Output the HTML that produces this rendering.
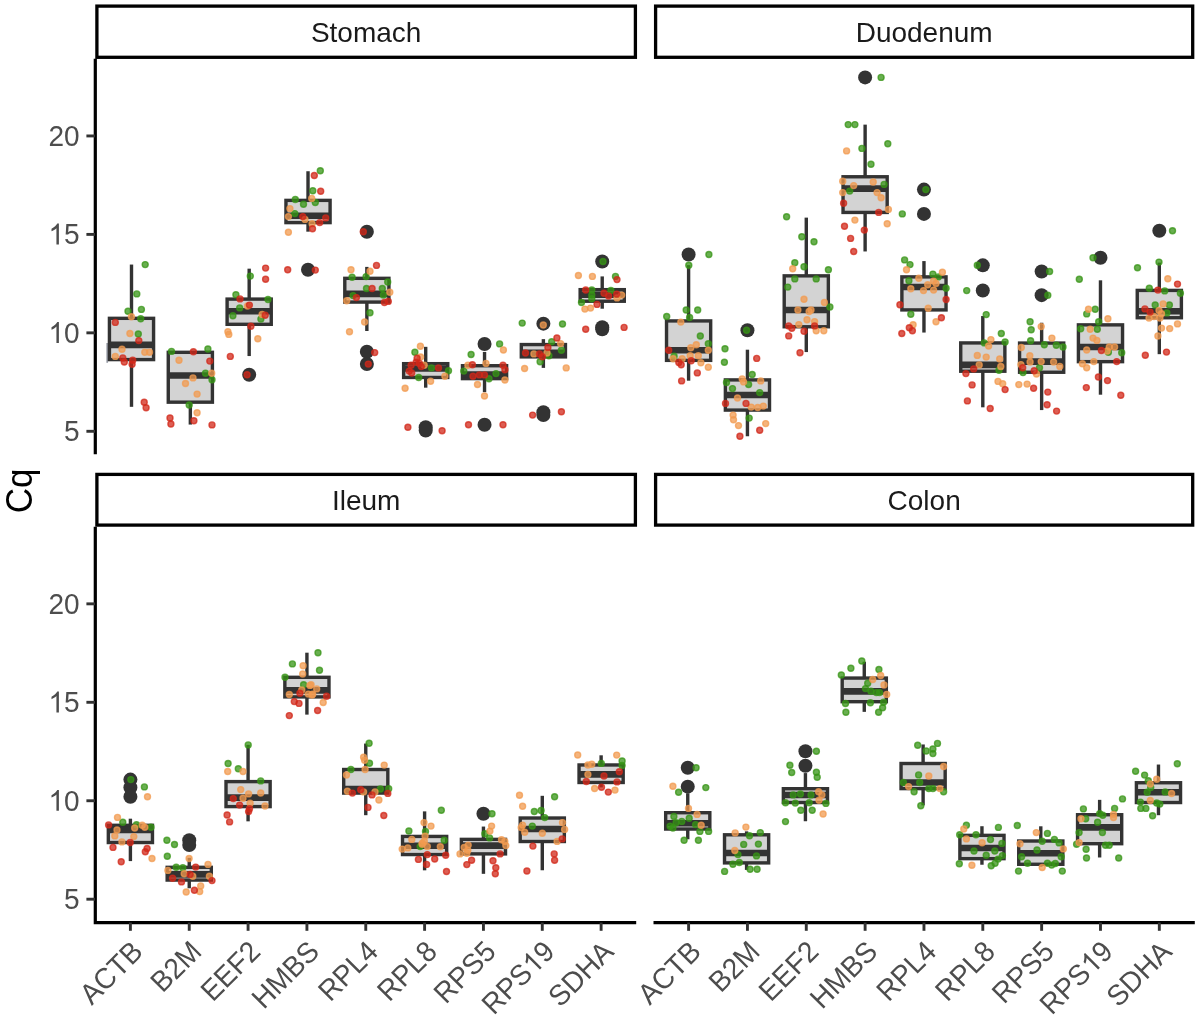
<!DOCTYPE html>
<html><head><meta charset="utf-8"><style>
html,body{margin:0;padding:0;background:#fff;width:1200px;height:1018px;overflow:hidden}
svg{display:block;font-family:"Liberation Sans",sans-serif;filter:blur(0.6px)}
</style></head><body>
<svg width="1200" height="1018" viewBox="0 0 1200 1018">
<rect x="96.9" y="6.1" width="538.50" height="51.20" fill="#fff" stroke="#000" stroke-width="3.3"/><text x="366.15" y="41.78" text-anchor="middle" font-size="28" fill="#1a1a1a">Stomach</text>
<rect x="655.6" y="6.1" width="537.10" height="51.20" fill="#fff" stroke="#000" stroke-width="3.3"/><text x="924.15" y="41.78" text-anchor="middle" font-size="28" fill="#1a1a1a">Duodenum</text>
<rect x="96.9" y="474.4" width="538.50" height="50.70" fill="#fff" stroke="#000" stroke-width="3.3"/><text x="366.15" y="509.83" text-anchor="middle" font-size="28" fill="#1a1a1a">Ileum</text>
<rect x="655.6" y="474.4" width="537.10" height="50.70" fill="#fff" stroke="#000" stroke-width="3.3"/><text x="924.15" y="509.83" text-anchor="middle" font-size="28" fill="#1a1a1a">Colon</text>
<line x1="95.3" y1="58.8" x2="95.3" y2="454.3" stroke="#000" stroke-width="3.2"/>
<path d="M95.3 526.8 V922.6 H636.2" fill="none" stroke="#000" stroke-width="3.2"/>
<line x1="653.5" y1="922.6" x2="1194.8" y2="922.6" stroke="#000" stroke-width="3.2"/>
<line x1="86.4" y1="431.30" x2="95" y2="431.30" stroke="#333" stroke-width="2.9"/>
<g transform="translate(0,441.38) scale(1,1.04) translate(0,-441.38)"><text x="64.03" y="441.38" font-size="28" fill="#4d4d4d">5</text></g>
<line x1="86.4" y1="332.85" x2="95" y2="332.85" stroke="#333" stroke-width="2.9"/>
<g transform="translate(0,342.93) scale(1,1.04) translate(0,-342.93)"><path transform="translate(48.46,342.93) scale(28)" d="M0.3726 0H0.2847V-0.5601Q0.2529 -0.5298 0.2014 -0.4995Q0.1499 -0.4692 0.1089 -0.4541V-0.5391Q0.1826 -0.5737 0.2378 -0.6230Q0.2930 -0.6724 0.3159 -0.7188H0.3726Z" fill="#4d4d4d"/><text x="64.03" y="342.93" font-size="28" fill="#4d4d4d">0</text></g>
<line x1="86.4" y1="234.40" x2="95" y2="234.40" stroke="#333" stroke-width="2.9"/>
<g transform="translate(0,244.48) scale(1,1.04) translate(0,-244.48)"><path transform="translate(48.46,244.48) scale(28)" d="M0.3726 0H0.2847V-0.5601Q0.2529 -0.5298 0.2014 -0.4995Q0.1499 -0.4692 0.1089 -0.4541V-0.5391Q0.1826 -0.5737 0.2378 -0.6230Q0.2930 -0.6724 0.3159 -0.7188H0.3726Z" fill="#4d4d4d"/><text x="64.03" y="244.48" font-size="28" fill="#4d4d4d">5</text></g>
<line x1="86.4" y1="135.95" x2="95" y2="135.95" stroke="#333" stroke-width="2.9"/>
<g transform="translate(0,146.03) scale(1,1.04) translate(0,-146.03)"><text x="48.46" y="146.03" font-size="28" fill="#4d4d4d">20</text></g>
<line x1="86.4" y1="899.20" x2="95" y2="899.20" stroke="#333" stroke-width="2.9"/>
<g transform="translate(0,909.28) scale(1,1.04) translate(0,-909.28)"><text x="64.03" y="909.28" font-size="28" fill="#4d4d4d">5</text></g>
<line x1="86.4" y1="800.75" x2="95" y2="800.75" stroke="#333" stroke-width="2.9"/>
<g transform="translate(0,810.83) scale(1,1.04) translate(0,-810.83)"><path transform="translate(48.46,810.83) scale(28)" d="M0.3726 0H0.2847V-0.5601Q0.2529 -0.5298 0.2014 -0.4995Q0.1499 -0.4692 0.1089 -0.4541V-0.5391Q0.1826 -0.5737 0.2378 -0.6230Q0.2930 -0.6724 0.3159 -0.7188H0.3726Z" fill="#4d4d4d"/><text x="64.03" y="810.83" font-size="28" fill="#4d4d4d">0</text></g>
<line x1="86.4" y1="702.30" x2="95" y2="702.30" stroke="#333" stroke-width="2.9"/>
<g transform="translate(0,712.38) scale(1,1.04) translate(0,-712.38)"><path transform="translate(48.46,712.38) scale(28)" d="M0.3726 0H0.2847V-0.5601Q0.2529 -0.5298 0.2014 -0.4995Q0.1499 -0.4692 0.1089 -0.4541V-0.5391Q0.1826 -0.5737 0.2378 -0.6230Q0.2930 -0.6724 0.3159 -0.7188H0.3726Z" fill="#4d4d4d"/><text x="64.03" y="712.38" font-size="28" fill="#4d4d4d">5</text></g>
<line x1="86.4" y1="603.85" x2="95" y2="603.85" stroke="#333" stroke-width="2.9"/>
<g transform="translate(0,613.93) scale(1,1.04) translate(0,-613.93)"><text x="48.46" y="613.93" font-size="28" fill="#4d4d4d">20</text></g>
<line x1="130.40" y1="922.6" x2="130.40" y2="930.8" stroke="#333" stroke-width="2.9"/>
<g transform="translate(130.20,938.90) rotate(-45)"><g transform="translate(0,20.16) scale(1,1.04) translate(0,-20.16)"><text x="-74.68" y="20.16" font-size="28" fill="#4d4d4d">ACTB</text></g></g>
<line x1="189.24" y1="922.6" x2="189.24" y2="930.8" stroke="#333" stroke-width="2.9"/>
<g transform="translate(189.04,938.90) rotate(-45)"><g transform="translate(0,20.16) scale(1,1.04) translate(0,-20.16)"><text x="-57.57" y="20.16" font-size="28" fill="#4d4d4d">B2M</text></g></g>
<line x1="248.08" y1="922.6" x2="248.08" y2="930.8" stroke="#333" stroke-width="2.9"/>
<g transform="translate(247.88,938.90) rotate(-45)"><g transform="translate(0,20.16) scale(1,1.04) translate(0,-20.16)"><text x="-70.03" y="20.16" font-size="28" fill="#4d4d4d">EEF2</text></g></g>
<line x1="306.92" y1="922.6" x2="306.92" y2="930.8" stroke="#333" stroke-width="2.9"/>
<g transform="translate(306.72,938.90) rotate(-45)"><g transform="translate(0,20.16) scale(1,1.04) translate(0,-20.16)"><text x="-80.89" y="20.16" font-size="28" fill="#4d4d4d">HMBS</text></g></g>
<line x1="365.76" y1="922.6" x2="365.76" y2="930.8" stroke="#333" stroke-width="2.9"/>
<g transform="translate(365.56,938.90) rotate(-45)"><g transform="translate(0,20.16) scale(1,1.04) translate(0,-20.16)"><text x="-70.03" y="20.16" font-size="28" fill="#4d4d4d">RPL4</text></g></g>
<line x1="424.60" y1="922.6" x2="424.60" y2="930.8" stroke="#333" stroke-width="2.9"/>
<g transform="translate(424.40,938.90) rotate(-45)"><g transform="translate(0,20.16) scale(1,1.04) translate(0,-20.16)"><text x="-70.03" y="20.16" font-size="28" fill="#4d4d4d">RPL8</text></g></g>
<line x1="483.44" y1="922.6" x2="483.44" y2="930.8" stroke="#333" stroke-width="2.9"/>
<g transform="translate(483.24,938.90) rotate(-45)"><g transform="translate(0,20.16) scale(1,1.04) translate(0,-20.16)"><text x="-73.14" y="20.16" font-size="28" fill="#4d4d4d">RPS5</text></g></g>
<line x1="542.28" y1="922.6" x2="542.28" y2="930.8" stroke="#333" stroke-width="2.9"/>
<g transform="translate(542.08,938.90) rotate(-45)"><g transform="translate(0,20.16) scale(1,1.04) translate(0,-20.16)"><text x="-88.70" y="20.16" font-size="28" fill="#4d4d4d">RPS</text><path transform="translate(-31.14,20.16) scale(28)" d="M0.3726 0H0.2847V-0.5601Q0.2529 -0.5298 0.2014 -0.4995Q0.1499 -0.4692 0.1089 -0.4541V-0.5391Q0.1826 -0.5737 0.2378 -0.6230Q0.2930 -0.6724 0.3159 -0.7188H0.3726Z" fill="#4d4d4d"/><text x="-15.57" y="20.16" font-size="28" fill="#4d4d4d">9</text></g></g>
<line x1="601.12" y1="922.6" x2="601.12" y2="930.8" stroke="#333" stroke-width="2.9"/>
<g transform="translate(600.92,938.90) rotate(-45)"><g transform="translate(0,20.16) scale(1,1.04) translate(0,-20.16)"><text x="-77.78" y="20.16" font-size="28" fill="#4d4d4d">SDHA</text></g></g>
<line x1="688.60" y1="922.6" x2="688.60" y2="930.8" stroke="#333" stroke-width="2.9"/>
<g transform="translate(688.40,938.90) rotate(-45)"><g transform="translate(0,20.16) scale(1,1.04) translate(0,-20.16)"><text x="-74.68" y="20.16" font-size="28" fill="#4d4d4d">ACTB</text></g></g>
<line x1="747.44" y1="922.6" x2="747.44" y2="930.8" stroke="#333" stroke-width="2.9"/>
<g transform="translate(747.24,938.90) rotate(-45)"><g transform="translate(0,20.16) scale(1,1.04) translate(0,-20.16)"><text x="-57.57" y="20.16" font-size="28" fill="#4d4d4d">B2M</text></g></g>
<line x1="806.28" y1="922.6" x2="806.28" y2="930.8" stroke="#333" stroke-width="2.9"/>
<g transform="translate(806.08,938.90) rotate(-45)"><g transform="translate(0,20.16) scale(1,1.04) translate(0,-20.16)"><text x="-70.03" y="20.16" font-size="28" fill="#4d4d4d">EEF2</text></g></g>
<line x1="865.12" y1="922.6" x2="865.12" y2="930.8" stroke="#333" stroke-width="2.9"/>
<g transform="translate(864.92,938.90) rotate(-45)"><g transform="translate(0,20.16) scale(1,1.04) translate(0,-20.16)"><text x="-80.89" y="20.16" font-size="28" fill="#4d4d4d">HMBS</text></g></g>
<line x1="923.96" y1="922.6" x2="923.96" y2="930.8" stroke="#333" stroke-width="2.9"/>
<g transform="translate(923.76,938.90) rotate(-45)"><g transform="translate(0,20.16) scale(1,1.04) translate(0,-20.16)"><text x="-70.03" y="20.16" font-size="28" fill="#4d4d4d">RPL4</text></g></g>
<line x1="982.80" y1="922.6" x2="982.80" y2="930.8" stroke="#333" stroke-width="2.9"/>
<g transform="translate(982.60,938.90) rotate(-45)"><g transform="translate(0,20.16) scale(1,1.04) translate(0,-20.16)"><text x="-70.03" y="20.16" font-size="28" fill="#4d4d4d">RPL8</text></g></g>
<line x1="1041.64" y1="922.6" x2="1041.64" y2="930.8" stroke="#333" stroke-width="2.9"/>
<g transform="translate(1041.44,938.90) rotate(-45)"><g transform="translate(0,20.16) scale(1,1.04) translate(0,-20.16)"><text x="-73.14" y="20.16" font-size="28" fill="#4d4d4d">RPS5</text></g></g>
<line x1="1100.48" y1="922.6" x2="1100.48" y2="930.8" stroke="#333" stroke-width="2.9"/>
<g transform="translate(1100.28,938.90) rotate(-45)"><g transform="translate(0,20.16) scale(1,1.04) translate(0,-20.16)"><text x="-88.70" y="20.16" font-size="28" fill="#4d4d4d">RPS</text><path transform="translate(-31.14,20.16) scale(28)" d="M0.3726 0H0.2847V-0.5601Q0.2529 -0.5298 0.2014 -0.4995Q0.1499 -0.4692 0.1089 -0.4541V-0.5391Q0.1826 -0.5737 0.2378 -0.6230Q0.2930 -0.6724 0.3159 -0.7188H0.3726Z" fill="#4d4d4d"/><text x="-15.57" y="20.16" font-size="28" fill="#4d4d4d">9</text></g></g>
<line x1="1159.32" y1="922.6" x2="1159.32" y2="930.8" stroke="#333" stroke-width="2.9"/>
<g transform="translate(1159.12,938.90) rotate(-45)"><g transform="translate(0,20.16) scale(1,1.04) translate(0,-20.16)"><text x="-77.78" y="20.16" font-size="28" fill="#4d4d4d">SDHA</text></g></g>
<line x1="107.2" y1="343" x2="107.2" y2="362.8" stroke="#9a9ea8" stroke-width="1.7"/>
<g stroke="#333" stroke-width="3.4" stroke-linecap="butt"><line x1="131.50" y1="264.56" x2="131.50" y2="318.33"/><line x1="131.50" y1="359.60" x2="131.50" y2="406.83"/><rect x="109.43" y="318.33" width="44.14" height="41.26" fill="#d3d3d3"/><line x1="109.43" y1="344.85" x2="153.57" y2="344.85" stroke-width="6.6" stroke-linecap="butt"/><line x1="190.34" y1="352.32" x2="190.34" y2="352.32"/><line x1="190.34" y1="402.17" x2="190.34" y2="424.57"/><rect x="168.27" y="352.32" width="44.14" height="49.85" fill="#d3d3d3"/><line x1="168.27" y1="375.47" x2="212.41" y2="375.47" stroke-width="6.6" stroke-linecap="butt"/><line x1="249.18" y1="268.67" x2="249.18" y2="299.10"/><line x1="249.18" y1="324.31" x2="249.18" y2="356.05"/><rect x="227.11" y="299.10" width="44.14" height="25.21" fill="#d3d3d3"/><line x1="227.11" y1="311.24" x2="271.25" y2="311.24" stroke-width="6.6" stroke-linecap="butt"/><line x1="308.02" y1="171.23" x2="308.02" y2="200.38"/><line x1="308.02" y1="222.62" x2="308.02" y2="231.69"/><rect x="285.95" y="200.38" width="44.14" height="22.24" fill="#d3d3d3"/><line x1="285.95" y1="215.71" x2="330.09" y2="215.71" stroke-width="6.6" stroke-linecap="butt"/><line x1="366.86" y1="266.89" x2="366.86" y2="278.33"/><line x1="366.86" y1="302.09" x2="366.86" y2="331.02"/><rect x="344.79" y="278.33" width="44.14" height="23.75" fill="#d3d3d3"/><line x1="344.79" y1="293.88" x2="388.93" y2="293.88" stroke-width="6.6" stroke-linecap="butt"/><line x1="425.70" y1="346.82" x2="425.70" y2="363.67"/><line x1="425.70" y1="377.46" x2="425.70" y2="387.68"/><rect x="403.63" y="363.67" width="44.14" height="13.79" fill="#d3d3d3"/><line x1="403.63" y1="368.53" x2="447.77" y2="368.53" stroke-width="6.6" stroke-linecap="butt"/><line x1="484.54" y1="351.92" x2="484.54" y2="365.72"/><line x1="484.54" y1="378.61" x2="484.54" y2="392.15"/><rect x="462.47" y="365.72" width="44.14" height="12.90" fill="#d3d3d3"/><line x1="462.47" y1="374.53" x2="506.61" y2="374.53" stroke-width="6.6" stroke-linecap="butt"/><line x1="543.38" y1="339.14" x2="543.38" y2="344.56"/><line x1="543.38" y1="356.88" x2="543.38" y2="367.89"/><rect x="521.31" y="344.56" width="44.14" height="12.32" fill="#d3d3d3"/><line x1="521.31" y1="352.77" x2="565.45" y2="352.77" stroke-width="6.6" stroke-linecap="butt"/><line x1="602.22" y1="276.41" x2="602.22" y2="289.66"/><line x1="602.22" y1="301.24" x2="602.22" y2="308.71"/><rect x="580.15" y="289.66" width="44.14" height="11.58" fill="#d3d3d3"/><line x1="580.15" y1="294.71" x2="624.29" y2="294.71" stroke-width="6.6" stroke-linecap="butt"/><line x1="688.60" y1="265.16" x2="688.60" y2="320.92"/><line x1="688.60" y1="360.37" x2="688.60" y2="380.70"/><rect x="666.53" y="320.92" width="44.14" height="39.45" fill="#d3d3d3"/><line x1="666.53" y1="350.31" x2="710.67" y2="350.31" stroke-width="6.6" stroke-linecap="butt"/><line x1="747.44" y1="349.70" x2="747.44" y2="379.90"/><line x1="747.44" y1="410.09" x2="747.44" y2="436.26"/><rect x="725.37" y="379.90" width="44.14" height="30.19" fill="#d3d3d3"/><line x1="725.37" y1="394.99" x2="769.51" y2="394.99" stroke-width="6.6" stroke-linecap="butt"/><line x1="806.28" y1="217.62" x2="806.28" y2="275.85"/><line x1="806.28" y1="326.77" x2="806.28" y2="352.07"/><rect x="784.21" y="275.85" width="44.14" height="50.91" fill="#d3d3d3"/><line x1="784.21" y1="310.00" x2="828.35" y2="310.00" stroke-width="6.6" stroke-linecap="butt"/><line x1="865.12" y1="124.63" x2="865.12" y2="176.77"/><line x1="865.12" y1="212.44" x2="865.12" y2="251.46"/><rect x="843.05" y="176.77" width="44.14" height="35.67" fill="#d3d3d3"/><line x1="843.05" y1="188.66" x2="887.19" y2="188.66" stroke-width="6.6" stroke-linecap="butt"/><line x1="923.96" y1="261.08" x2="923.96" y2="276.89"/><line x1="923.96" y1="309.91" x2="923.96" y2="332.55"/><rect x="901.89" y="276.89" width="44.14" height="33.02" fill="#d3d3d3"/><line x1="901.89" y1="287.03" x2="946.03" y2="287.03" stroke-width="6.6" stroke-linecap="butt"/><line x1="982.80" y1="316.04" x2="982.80" y2="342.92"/><line x1="982.80" y1="371.23" x2="982.80" y2="407.31"/><rect x="960.73" y="342.92" width="44.14" height="28.30" fill="#d3d3d3"/><line x1="960.73" y1="364.86" x2="1004.87" y2="364.86" stroke-width="6.6" stroke-linecap="butt"/><line x1="1041.64" y1="322.74" x2="1041.64" y2="343.08"/><line x1="1041.64" y1="372.25" x2="1041.64" y2="410.08"/><rect x="1019.57" y="343.08" width="44.14" height="29.17" fill="#d3d3d3"/><line x1="1019.57" y1="361.64" x2="1063.71" y2="361.64" stroke-width="6.6" stroke-linecap="butt"/><line x1="1100.48" y1="280.31" x2="1100.48" y2="324.87"/><line x1="1100.48" y1="361.64" x2="1100.48" y2="394.70"/><rect x="1078.41" y="324.87" width="44.14" height="36.78" fill="#d3d3d3"/><line x1="1078.41" y1="346.97" x2="1122.55" y2="346.97" stroke-width="6.6" stroke-linecap="butt"/><line x1="1159.32" y1="262.62" x2="1159.32" y2="290.41"/><line x1="1159.32" y1="317.74" x2="1159.32" y2="354.18"/><rect x="1137.25" y="290.41" width="44.14" height="27.33" fill="#d3d3d3"/><line x1="1137.25" y1="311.30" x2="1181.39" y2="311.30" stroke-width="6.6" stroke-linecap="butt"/><line x1="130.40" y1="818.69" x2="130.40" y2="825.31"/><line x1="130.40" y1="842.55" x2="130.40" y2="861.10"/><rect x="108.33" y="825.31" width="44.14" height="17.23" fill="#d3d3d3"/><line x1="108.33" y1="829.95" x2="152.47" y2="829.95" stroke-width="6.6" stroke-linecap="butt"/><line x1="189.24" y1="857.79" x2="189.24" y2="867.33"/><line x1="189.24" y1="880.06" x2="189.24" y2="888.28"/><rect x="167.17" y="867.33" width="44.14" height="12.73" fill="#d3d3d3"/><line x1="167.17" y1="874.36" x2="211.31" y2="874.36" stroke-width="6.6" stroke-linecap="butt"/><line x1="248.08" y1="744.85" x2="248.08" y2="781.60"/><line x1="248.08" y1="806.60" x2="248.08" y2="821.34"/><rect x="226.01" y="781.60" width="44.14" height="25.00" fill="#d3d3d3"/><line x1="226.01" y1="797.65" x2="270.15" y2="797.65" stroke-width="6.6" stroke-linecap="butt"/><line x1="306.92" y1="652.69" x2="306.92" y2="677.31"/><line x1="306.92" y1="696.90" x2="306.92" y2="714.63"/><rect x="284.85" y="677.31" width="44.14" height="19.59" fill="#d3d3d3"/><line x1="284.85" y1="690.37" x2="328.99" y2="690.37" stroke-width="6.6" stroke-linecap="butt"/><line x1="365.76" y1="743.56" x2="365.76" y2="769.50"/><line x1="365.76" y1="793.09" x2="365.76" y2="815.20"/><rect x="343.69" y="769.50" width="44.14" height="23.58" fill="#d3d3d3"/><line x1="343.69" y1="788.96" x2="387.83" y2="788.96" stroke-width="6.6" stroke-linecap="butt"/><line x1="424.60" y1="811.37" x2="424.60" y2="836.43"/><line x1="424.60" y1="854.56" x2="424.60" y2="870.33"/><rect x="402.53" y="836.43" width="44.14" height="18.13" fill="#d3d3d3"/><line x1="402.53" y1="845.71" x2="446.67" y2="845.71" stroke-width="6.6" stroke-linecap="butt"/><line x1="483.44" y1="826.56" x2="483.44" y2="839.37"/><line x1="483.44" y1="853.90" x2="483.44" y2="873.83"/><rect x="461.37" y="839.37" width="44.14" height="14.52" fill="#d3d3d3"/><line x1="461.37" y1="845.64" x2="505.51" y2="845.64" stroke-width="6.6" stroke-linecap="butt"/><line x1="542.28" y1="795.81" x2="542.28" y2="818.02"/><line x1="542.28" y1="841.51" x2="542.28" y2="870.27"/><rect x="520.21" y="818.02" width="44.14" height="23.49" fill="#d3d3d3"/><line x1="520.21" y1="828.98" x2="564.35" y2="828.98" stroke-width="6.6" stroke-linecap="butt"/><line x1="601.12" y1="755.30" x2="601.12" y2="764.97"/><line x1="601.12" y1="782.50" x2="601.12" y2="787.37"/><rect x="579.05" y="764.97" width="44.14" height="17.52" fill="#d3d3d3"/><line x1="579.05" y1="774.40" x2="623.19" y2="774.40" stroke-width="6.6" stroke-linecap="butt"/><line x1="687.75" y1="793.30" x2="687.75" y2="812.71"/><line x1="687.75" y1="829.06" x2="687.75" y2="839.27"/><rect x="665.68" y="812.71" width="44.14" height="16.34" fill="#d3d3d3"/><line x1="665.68" y1="823.31" x2="709.82" y2="823.31" stroke-width="6.6" stroke-linecap="butt"/><line x1="746.59" y1="831.35" x2="746.59" y2="834.80"/><line x1="746.59" y1="862.89" x2="746.59" y2="869.91"/><rect x="724.52" y="834.80" width="44.14" height="28.09" fill="#d3d3d3"/><line x1="724.52" y1="853.06" x2="768.66" y2="853.06" stroke-width="6.6" stroke-linecap="butt"/><line x1="805.43" y1="773.09" x2="805.43" y2="788.71"/><line x1="805.43" y1="802.52" x2="805.43" y2="821.24"/><rect x="783.36" y="788.71" width="44.14" height="13.81" fill="#d3d3d3"/><line x1="783.36" y1="795.07" x2="827.50" y2="795.07" stroke-width="6.6" stroke-linecap="butt"/><line x1="864.27" y1="661.72" x2="864.27" y2="678.07"/><line x1="864.27" y1="701.69" x2="864.27" y2="711.86"/><rect x="842.20" y="678.07" width="44.14" height="23.62" fill="#d3d3d3"/><line x1="842.20" y1="691.33" x2="886.34" y2="691.33" stroke-width="6.6" stroke-linecap="butt"/><line x1="923.11" y1="744.46" x2="923.11" y2="763.50"/><line x1="923.11" y1="788.62" x2="923.11" y2="805.37"/><rect x="901.04" y="763.50" width="44.14" height="25.12" fill="#d3d3d3"/><line x1="901.04" y1="782.53" x2="945.18" y2="782.53" stroke-width="6.6" stroke-linecap="butt"/><line x1="981.95" y1="826.22" x2="981.95" y2="835.36"/><line x1="981.95" y1="858.65" x2="981.95" y2="864.74"/><rect x="959.88" y="835.36" width="44.14" height="23.29" fill="#d3d3d3"/><line x1="959.88" y1="848.00" x2="1004.02" y2="848.00" stroke-width="6.6" stroke-linecap="butt"/><line x1="1040.79" y1="826.29" x2="1040.79" y2="841.01"/><line x1="1040.79" y1="864.29" x2="1040.79" y2="866.66"/><rect x="1018.72" y="841.01" width="44.14" height="23.27" fill="#d3d3d3"/><line x1="1018.72" y1="853.20" x2="1062.86" y2="853.20" stroke-width="6.6" stroke-linecap="butt"/><line x1="1099.63" y1="799.85" x2="1099.63" y2="814.73"/><line x1="1099.63" y1="843.70" x2="1099.63" y2="857.48"/><rect x="1077.56" y="814.73" width="44.14" height="28.97" fill="#d3d3d3"/><line x1="1077.56" y1="827.40" x2="1121.70" y2="827.40" stroke-width="6.6" stroke-linecap="butt"/><line x1="1158.47" y1="764.54" x2="1158.47" y2="782.75"/><line x1="1158.47" y1="802.54" x2="1158.47" y2="815.21"/><rect x="1136.40" y="782.75" width="44.14" height="19.79" fill="#d3d3d3"/><line x1="1136.40" y1="792.25" x2="1180.54" y2="792.25" stroke-width="6.6" stroke-linecap="butt"/></g>
<g fill="#333"><circle cx="249.18" cy="374.72" r="7.0"/><circle cx="308.02" cy="269.70" r="7.0"/><circle cx="366.86" cy="231.69" r="7.0"/><circle cx="366.86" cy="351.75" r="7.0"/><circle cx="366.86" cy="364.06" r="7.0"/><circle cx="425.70" cy="427.27" r="7.0"/><circle cx="425.70" cy="430.46" r="7.0"/><circle cx="484.54" cy="344.01" r="7.0"/><circle cx="484.54" cy="424.71" r="7.0"/><circle cx="543.38" cy="323.64" r="7.0"/><circle cx="543.38" cy="412.14" r="7.0"/><circle cx="543.38" cy="414.94" r="7.0"/><circle cx="602.22" cy="261.47" r="7.0"/><circle cx="602.22" cy="327.19" r="7.0"/><circle cx="602.22" cy="329.25" r="7.0"/><circle cx="688.60" cy="254.49" r="7.0"/><circle cx="747.44" cy="330.18" r="7.0"/><circle cx="865.12" cy="77.38" r="7.0"/><circle cx="923.96" cy="189.62" r="7.0"/><circle cx="923.96" cy="213.92" r="7.0"/><circle cx="982.80" cy="265.33" r="7.0"/><circle cx="982.80" cy="290.57" r="7.0"/><circle cx="1041.64" cy="271.47" r="7.0"/><circle cx="1041.64" cy="295.16" r="7.0"/><circle cx="1100.48" cy="257.68" r="7.0"/><circle cx="1159.32" cy="230.73" r="7.0"/><circle cx="130.40" cy="779.58" r="7.0"/><circle cx="130.40" cy="787.53" r="7.0"/><circle cx="130.40" cy="796.81" r="7.0"/><circle cx="189.24" cy="840.16" r="7.0"/><circle cx="189.24" cy="844.93" r="7.0"/><circle cx="483.44" cy="813.75" r="7.0"/><circle cx="687.75" cy="767.77" r="7.0"/><circle cx="687.75" cy="786.66" r="7.0"/><circle cx="805.43" cy="751.29" r="7.0"/><circle cx="805.43" cy="765.82" r="7.0"/></g>
<g fill-opacity="0.75" stroke-opacity="0.75" stroke-width="1.4"><circle cx="145.2" cy="264.6" r="3.0" fill="#379416" stroke="#379416"/><circle cx="136.8" cy="293.9" r="3.0" fill="#379416" stroke="#379416"/><circle cx="128.0" cy="311.2" r="3.0" fill="#379416" stroke="#379416"/><circle cx="141.4" cy="309.4" r="3.0" fill="#379416" stroke="#379416"/><circle cx="140.7" cy="318.7" r="3.0" fill="#379416" stroke="#379416"/><circle cx="138.3" cy="334.0" r="3.0" fill="#379416" stroke="#379416"/><circle cx="171.5" cy="351.4" r="3.0" fill="#379416" stroke="#379416"/><circle cx="207.9" cy="349.0" r="3.0" fill="#379416" stroke="#379416"/><circle cx="205.5" cy="373.2" r="3.0" fill="#379416" stroke="#379416"/><circle cx="212.0" cy="379.8" r="3.0" fill="#379416" stroke="#379416"/><circle cx="189.2" cy="405.0" r="3.0" fill="#379416" stroke="#379416"/><circle cx="250.3" cy="276.1" r="3.0" fill="#379416" stroke="#379416"/><circle cx="235.9" cy="294.8" r="3.0" fill="#379416" stroke="#379416"/><circle cx="268.0" cy="299.5" r="3.0" fill="#379416" stroke="#379416"/><circle cx="239.7" cy="307.9" r="3.0" fill="#379416" stroke="#379416"/><circle cx="232.9" cy="315.7" r="3.0" fill="#379416" stroke="#379416"/><circle cx="260.9" cy="319.1" r="3.0" fill="#379416" stroke="#379416"/><circle cx="320.3" cy="170.8" r="3.0" fill="#379416" stroke="#379416"/><circle cx="312.8" cy="190.7" r="3.0" fill="#379416" stroke="#379416"/><circle cx="295.3" cy="199.5" r="3.0" fill="#379416" stroke="#379416"/><circle cx="303.5" cy="204.3" r="3.0" fill="#379416" stroke="#379416"/><circle cx="315.3" cy="202.5" r="3.0" fill="#379416" stroke="#379416"/><circle cx="294.8" cy="213.6" r="3.0" fill="#379416" stroke="#379416"/><circle cx="352.1" cy="277.3" r="3.0" fill="#379416" stroke="#379416"/><circle cx="366.1" cy="276.6" r="3.0" fill="#379416" stroke="#379416"/><circle cx="387.7" cy="282.0" r="3.0" fill="#379416" stroke="#379416"/><circle cx="366.5" cy="288.5" r="3.0" fill="#379416" stroke="#379416"/><circle cx="382.3" cy="288.5" r="3.0" fill="#379416" stroke="#379416"/><circle cx="353.1" cy="295.6" r="3.0" fill="#379416" stroke="#379416"/><circle cx="383.4" cy="295.0" r="3.0" fill="#379416" stroke="#379416"/><circle cx="370.0" cy="312.7" r="3.0" fill="#379416" stroke="#379416"/><circle cx="414.9" cy="352.2" r="3.0" fill="#379416" stroke="#379416"/><circle cx="431.5" cy="367.9" r="3.0" fill="#379416" stroke="#379416"/><circle cx="448.5" cy="370.8" r="3.0" fill="#379416" stroke="#379416"/><circle cx="418.7" cy="377.5" r="3.0" fill="#379416" stroke="#379416"/><circle cx="499.6" cy="343.9" r="3.0" fill="#379416" stroke="#379416"/><circle cx="471.1" cy="354.5" r="3.0" fill="#379416" stroke="#379416"/><circle cx="463.8" cy="371.1" r="3.0" fill="#379416" stroke="#379416"/><circle cx="496.0" cy="373.6" r="3.0" fill="#379416" stroke="#379416"/><circle cx="489.0" cy="378.7" r="3.0" fill="#379416" stroke="#379416"/><circle cx="522.2" cy="323.1" r="3.0" fill="#379416" stroke="#379416"/><circle cx="562.5" cy="324.0" r="3.0" fill="#379416" stroke="#379416"/><circle cx="551.7" cy="341.8" r="3.0" fill="#379416" stroke="#379416"/><circle cx="548.9" cy="355.8" r="3.0" fill="#379416" stroke="#379416"/><circle cx="561.4" cy="350.2" r="3.0" fill="#379416" stroke="#379416"/><circle cx="540.1" cy="361.7" r="3.0" fill="#379416" stroke="#379416"/><circle cx="603.0" cy="261.5" r="3.0" fill="#379416" stroke="#379416"/><circle cx="615.5" cy="276.4" r="3.0" fill="#379416" stroke="#379416"/><circle cx="591.8" cy="290.0" r="3.0" fill="#379416" stroke="#379416"/><circle cx="610.9" cy="290.4" r="3.0" fill="#379416" stroke="#379416"/><circle cx="591.8" cy="295.1" r="3.0" fill="#379416" stroke="#379416"/><circle cx="591.8" cy="298.8" r="3.0" fill="#379416" stroke="#379416"/><circle cx="581.5" cy="302.5" r="3.0" fill="#379416" stroke="#379416"/><circle cx="708.9" cy="254.5" r="3.0" fill="#379416" stroke="#379416"/><circle cx="688.8" cy="265.2" r="3.0" fill="#379416" stroke="#379416"/><circle cx="686.2" cy="310.0" r="3.0" fill="#379416" stroke="#379416"/><circle cx="697.7" cy="310.0" r="3.0" fill="#379416" stroke="#379416"/><circle cx="666.7" cy="316.5" r="3.0" fill="#379416" stroke="#379416"/><circle cx="689.6" cy="317.5" r="3.0" fill="#379416" stroke="#379416"/><circle cx="700.3" cy="336.0" r="3.0" fill="#379416" stroke="#379416"/><circle cx="708.3" cy="343.7" r="3.0" fill="#379416" stroke="#379416"/><circle cx="674.1" cy="356.3" r="3.0" fill="#379416" stroke="#379416"/><circle cx="725.0" cy="348.7" r="3.0" fill="#379416" stroke="#379416"/><circle cx="724.4" cy="362.2" r="3.0" fill="#379416" stroke="#379416"/><circle cx="746.6" cy="330.2" r="3.0" fill="#379416" stroke="#379416"/><circle cx="752.2" cy="374.5" r="3.0" fill="#379416" stroke="#379416"/><circle cx="748.6" cy="384.5" r="3.0" fill="#379416" stroke="#379416"/><circle cx="726.5" cy="382.5" r="3.0" fill="#379416" stroke="#379416"/><circle cx="732.5" cy="388.6" r="3.0" fill="#379416" stroke="#379416"/><circle cx="759.7" cy="392.6" r="3.0" fill="#379416" stroke="#379416"/><circle cx="749.2" cy="418.1" r="3.0" fill="#379416" stroke="#379416"/><circle cx="786.6" cy="216.7" r="3.0" fill="#379416" stroke="#379416"/><circle cx="801.8" cy="236.8" r="3.0" fill="#379416" stroke="#379416"/><circle cx="814.0" cy="241.7" r="3.0" fill="#379416" stroke="#379416"/><circle cx="794.8" cy="262.7" r="3.0" fill="#379416" stroke="#379416"/><circle cx="804.0" cy="266.7" r="3.0" fill="#379416" stroke="#379416"/><circle cx="828.4" cy="269.8" r="3.0" fill="#379416" stroke="#379416"/><circle cx="794.8" cy="278.9" r="3.0" fill="#379416" stroke="#379416"/><circle cx="816.2" cy="278.9" r="3.0" fill="#379416" stroke="#379416"/><circle cx="787.8" cy="287.1" r="3.0" fill="#379416" stroke="#379416"/><circle cx="829.9" cy="307.0" r="3.0" fill="#379416" stroke="#379416"/><circle cx="881.1" cy="77.4" r="3.0" fill="#379416" stroke="#379416"/><circle cx="848.2" cy="124.6" r="3.0" fill="#379416" stroke="#379416"/><circle cx="854.9" cy="124.6" r="3.0" fill="#379416" stroke="#379416"/><circle cx="887.8" cy="143.8" r="3.0" fill="#379416" stroke="#379416"/><circle cx="861.9" cy="148.4" r="3.0" fill="#379416" stroke="#379416"/><circle cx="871.0" cy="164.3" r="3.0" fill="#379416" stroke="#379416"/><circle cx="884.1" cy="184.4" r="3.0" fill="#379416" stroke="#379416"/><circle cx="849.7" cy="191.1" r="3.0" fill="#379416" stroke="#379416"/><circle cx="925.8" cy="189.6" r="3.0" fill="#379416" stroke="#379416"/><circle cx="902.3" cy="213.9" r="3.0" fill="#379416" stroke="#379416"/><circle cx="904.6" cy="259.9" r="3.0" fill="#379416" stroke="#379416"/><circle cx="910.0" cy="264.6" r="3.0" fill="#379416" stroke="#379416"/><circle cx="908.9" cy="280.7" r="3.0" fill="#379416" stroke="#379416"/><circle cx="932.9" cy="274.1" r="3.0" fill="#379416" stroke="#379416"/><circle cx="938.3" cy="276.9" r="3.0" fill="#379416" stroke="#379416"/><circle cx="946.1" cy="288.2" r="3.0" fill="#379416" stroke="#379416"/><circle cx="910.8" cy="314.2" r="3.0" fill="#379416" stroke="#379416"/><circle cx="977.3" cy="265.3" r="3.0" fill="#379416" stroke="#379416"/><circle cx="966.7" cy="290.6" r="3.0" fill="#379416" stroke="#379416"/><circle cx="986.2" cy="314.6" r="3.0" fill="#379416" stroke="#379416"/><circle cx="1001.3" cy="333.5" r="3.0" fill="#379416" stroke="#379416"/><circle cx="1005.1" cy="342.0" r="3.0" fill="#379416" stroke="#379416"/><circle cx="984.3" cy="342.9" r="3.0" fill="#379416" stroke="#379416"/><circle cx="999.0" cy="370.3" r="3.0" fill="#379416" stroke="#379416"/><circle cx="1049.6" cy="271.5" r="3.0" fill="#379416" stroke="#379416"/><circle cx="1047.8" cy="295.2" r="3.0" fill="#379416" stroke="#379416"/><circle cx="1030.1" cy="321.7" r="3.0" fill="#379416" stroke="#379416"/><circle cx="1031.2" cy="329.8" r="3.0" fill="#379416" stroke="#379416"/><circle cx="1030.6" cy="340.8" r="3.0" fill="#379416" stroke="#379416"/><circle cx="1044.3" cy="344.7" r="3.0" fill="#379416" stroke="#379416"/><circle cx="1056.3" cy="345.2" r="3.0" fill="#379416" stroke="#379416"/><circle cx="1063.0" cy="347.0" r="3.0" fill="#379416" stroke="#379416"/><circle cx="1039.5" cy="367.7" r="3.0" fill="#379416" stroke="#379416"/><circle cx="1023.0" cy="372.6" r="3.0" fill="#379416" stroke="#379416"/><circle cx="1093.0" cy="257.7" r="3.0" fill="#379416" stroke="#379416"/><circle cx="1079.3" cy="279.3" r="3.0" fill="#379416" stroke="#379416"/><circle cx="1095.2" cy="309.3" r="3.0" fill="#379416" stroke="#379416"/><circle cx="1086.7" cy="313.9" r="3.0" fill="#379416" stroke="#379416"/><circle cx="1098.7" cy="321.7" r="3.0" fill="#379416" stroke="#379416"/><circle cx="1080.7" cy="328.8" r="3.0" fill="#379416" stroke="#379416"/><circle cx="1097.3" cy="329.3" r="3.0" fill="#379416" stroke="#379416"/><circle cx="1108.4" cy="352.3" r="3.0" fill="#379416" stroke="#379416"/><circle cx="1121.7" cy="352.8" r="3.0" fill="#379416" stroke="#379416"/><circle cx="1172.5" cy="230.7" r="3.0" fill="#379416" stroke="#379416"/><circle cx="1159.0" cy="262.1" r="3.0" fill="#379416" stroke="#379416"/><circle cx="1137.5" cy="267.8" r="3.0" fill="#379416" stroke="#379416"/><circle cx="1149.3" cy="288.2" r="3.0" fill="#379416" stroke="#379416"/><circle cx="1164.7" cy="290.9" r="3.0" fill="#379416" stroke="#379416"/><circle cx="1180.4" cy="293.2" r="3.0" fill="#379416" stroke="#379416"/><circle cx="1155.2" cy="305.0" r="3.0" fill="#379416" stroke="#379416"/><circle cx="1169.4" cy="305.0" r="3.0" fill="#379416" stroke="#379416"/><circle cx="1166.9" cy="312.9" r="3.0" fill="#379416" stroke="#379416"/><circle cx="130.8" cy="779.6" r="3.0" fill="#379416" stroke="#379416"/><circle cx="144.4" cy="786.9" r="3.0" fill="#379416" stroke="#379416"/><circle cx="122.8" cy="822.3" r="3.0" fill="#379416" stroke="#379416"/><circle cx="136.5" cy="824.7" r="3.0" fill="#379416" stroke="#379416"/><circle cx="151.0" cy="827.3" r="3.0" fill="#379416" stroke="#379416"/><circle cx="166.9" cy="840.3" r="3.0" fill="#379416" stroke="#379416"/><circle cx="174.5" cy="844.5" r="3.0" fill="#379416" stroke="#379416"/><circle cx="167.3" cy="856.2" r="3.0" fill="#379416" stroke="#379416"/><circle cx="176.2" cy="867.3" r="3.0" fill="#379416" stroke="#379416"/><circle cx="182.8" cy="867.7" r="3.0" fill="#379416" stroke="#379416"/><circle cx="248.2" cy="744.9" r="3.0" fill="#379416" stroke="#379416"/><circle cx="228.1" cy="763.5" r="3.0" fill="#379416" stroke="#379416"/><circle cx="238.3" cy="768.7" r="3.0" fill="#379416" stroke="#379416"/><circle cx="260.7" cy="780.9" r="3.0" fill="#379416" stroke="#379416"/><circle cx="318.0" cy="652.7" r="3.0" fill="#379416" stroke="#379416"/><circle cx="292.4" cy="663.9" r="3.0" fill="#379416" stroke="#379416"/><circle cx="319.5" cy="670.2" r="3.0" fill="#379416" stroke="#379416"/><circle cx="285.0" cy="677.3" r="3.0" fill="#379416" stroke="#379416"/><circle cx="303.6" cy="684.8" r="3.0" fill="#379416" stroke="#379416"/><circle cx="369.1" cy="743.3" r="3.0" fill="#379416" stroke="#379416"/><circle cx="369.5" cy="763.2" r="3.0" fill="#379416" stroke="#379416"/><circle cx="350.9" cy="769.5" r="3.0" fill="#379416" stroke="#379416"/><circle cx="380.4" cy="789.0" r="3.0" fill="#379416" stroke="#379416"/><circle cx="388.7" cy="788.7" r="3.0" fill="#379416" stroke="#379416"/><circle cx="441.3" cy="810.3" r="3.0" fill="#379416" stroke="#379416"/><circle cx="408.9" cy="831.0" r="3.0" fill="#379416" stroke="#379416"/><circle cx="425.5" cy="831.4" r="3.0" fill="#379416" stroke="#379416"/><circle cx="444.2" cy="840.3" r="3.0" fill="#379416" stroke="#379416"/><circle cx="420.2" cy="846.5" r="3.0" fill="#379416" stroke="#379416"/><circle cx="492.0" cy="813.7" r="3.0" fill="#379416" stroke="#379416"/><circle cx="484.9" cy="833.7" r="3.0" fill="#379416" stroke="#379416"/><circle cx="489.6" cy="837.9" r="3.0" fill="#379416" stroke="#379416"/><circle cx="554.6" cy="796.7" r="3.0" fill="#379416" stroke="#379416"/><circle cx="534.3" cy="811.5" r="3.0" fill="#379416" stroke="#379416"/><circle cx="541.1" cy="810.5" r="3.0" fill="#379416" stroke="#379416"/><circle cx="544.7" cy="817.6" r="3.0" fill="#379416" stroke="#379416"/><circle cx="532.3" cy="826.1" r="3.0" fill="#379416" stroke="#379416"/><circle cx="622.1" cy="761.0" r="3.0" fill="#379416" stroke="#379416"/><circle cx="601.3" cy="763.4" r="3.0" fill="#379416" stroke="#379416"/><circle cx="622.1" cy="765.4" r="3.0" fill="#379416" stroke="#379416"/><circle cx="696.1" cy="767.8" r="3.0" fill="#379416" stroke="#379416"/><circle cx="705.8" cy="787.6" r="3.0" fill="#379416" stroke="#379416"/><circle cx="678.6" cy="792.3" r="3.0" fill="#379416" stroke="#379416"/><circle cx="673.9" cy="816.5" r="3.0" fill="#379416" stroke="#379416"/><circle cx="689.2" cy="818.2" r="3.0" fill="#379416" stroke="#379416"/><circle cx="681.8" cy="821.4" r="3.0" fill="#379416" stroke="#379416"/><circle cx="676.1" cy="822.7" r="3.0" fill="#379416" stroke="#379416"/><circle cx="670.1" cy="826.2" r="3.0" fill="#379416" stroke="#379416"/><circle cx="672.9" cy="828.0" r="3.0" fill="#379416" stroke="#379416"/><circle cx="695.6" cy="824.6" r="3.0" fill="#379416" stroke="#379416"/><circle cx="699.9" cy="831.4" r="3.0" fill="#379416" stroke="#379416"/><circle cx="708.6" cy="831.4" r="3.0" fill="#379416" stroke="#379416"/><circle cx="684.1" cy="840.3" r="3.0" fill="#379416" stroke="#379416"/><circle cx="698.4" cy="840.3" r="3.0" fill="#379416" stroke="#379416"/><circle cx="749.5" cy="835.7" r="3.0" fill="#379416" stroke="#379416"/><circle cx="760.3" cy="832.6" r="3.0" fill="#379416" stroke="#379416"/><circle cx="743.7" cy="844.4" r="3.0" fill="#379416" stroke="#379416"/><circle cx="758.4" cy="844.1" r="3.0" fill="#379416" stroke="#379416"/><circle cx="738.0" cy="854.6" r="3.0" fill="#379416" stroke="#379416"/><circle cx="756.5" cy="855.9" r="3.0" fill="#379416" stroke="#379416"/><circle cx="732.9" cy="864.2" r="3.0" fill="#379416" stroke="#379416"/><circle cx="739.3" cy="862.5" r="3.0" fill="#379416" stroke="#379416"/><circle cx="724.6" cy="871.4" r="3.0" fill="#379416" stroke="#379416"/><circle cx="750.1" cy="869.3" r="3.0" fill="#379416" stroke="#379416"/><circle cx="757.1" cy="869.3" r="3.0" fill="#379416" stroke="#379416"/><circle cx="816.4" cy="751.3" r="3.0" fill="#379416" stroke="#379416"/><circle cx="789.9" cy="765.3" r="3.0" fill="#379416" stroke="#379416"/><circle cx="791.7" cy="772.5" r="3.0" fill="#379416" stroke="#379416"/><circle cx="816.4" cy="772.2" r="3.0" fill="#379416" stroke="#379416"/><circle cx="817.2" cy="777.3" r="3.0" fill="#379416" stroke="#379416"/><circle cx="793.2" cy="794.9" r="3.0" fill="#379416" stroke="#379416"/><circle cx="800.4" cy="794.0" r="3.0" fill="#379416" stroke="#379416"/><circle cx="811.0" cy="794.9" r="3.0" fill="#379416" stroke="#379416"/><circle cx="785.5" cy="802.7" r="3.0" fill="#379416" stroke="#379416"/><circle cx="795.3" cy="803.1" r="3.0" fill="#379416" stroke="#379416"/><circle cx="809.2" cy="802.7" r="3.0" fill="#379416" stroke="#379416"/><circle cx="825.9" cy="803.4" r="3.0" fill="#379416" stroke="#379416"/><circle cx="800.8" cy="810.3" r="3.0" fill="#379416" stroke="#379416"/><circle cx="812.2" cy="810.3" r="3.0" fill="#379416" stroke="#379416"/><circle cx="785.5" cy="821.6" r="3.0" fill="#379416" stroke="#379416"/><circle cx="861.8" cy="661.0" r="3.0" fill="#379416" stroke="#379416"/><circle cx="850.9" cy="668.3" r="3.0" fill="#379416" stroke="#379416"/><circle cx="878.9" cy="669.5" r="3.0" fill="#379416" stroke="#379416"/><circle cx="841.3" cy="675.0" r="3.0" fill="#379416" stroke="#379416"/><circle cx="867.7" cy="683.2" r="3.0" fill="#379416" stroke="#379416"/><circle cx="865.5" cy="688.6" r="3.0" fill="#379416" stroke="#379416"/><circle cx="870.9" cy="691.3" r="3.0" fill="#379416" stroke="#379416"/><circle cx="876.4" cy="692.6" r="3.0" fill="#379416" stroke="#379416"/><circle cx="879.5" cy="692.6" r="3.0" fill="#379416" stroke="#379416"/><circle cx="845.5" cy="703.5" r="3.0" fill="#379416" stroke="#379416"/><circle cx="870.4" cy="702.8" r="3.0" fill="#379416" stroke="#379416"/><circle cx="883.6" cy="702.2" r="3.0" fill="#379416" stroke="#379416"/><circle cx="882.6" cy="707.7" r="3.0" fill="#379416" stroke="#379416"/><circle cx="845.9" cy="712.2" r="3.0" fill="#379416" stroke="#379416"/><circle cx="878.6" cy="712.2" r="3.0" fill="#379416" stroke="#379416"/><circle cx="917.7" cy="745.2" r="3.0" fill="#379416" stroke="#379416"/><circle cx="937.5" cy="743.4" r="3.0" fill="#379416" stroke="#379416"/><circle cx="926.2" cy="751.0" r="3.0" fill="#379416" stroke="#379416"/><circle cx="932.9" cy="749.0" r="3.0" fill="#379416" stroke="#379416"/><circle cx="932.9" cy="753.6" r="3.0" fill="#379416" stroke="#379416"/><circle cx="918.6" cy="774.9" r="3.0" fill="#379416" stroke="#379416"/><circle cx="903.4" cy="782.5" r="3.0" fill="#379416" stroke="#379416"/><circle cx="919.7" cy="782.5" r="3.0" fill="#379416" stroke="#379416"/><circle cx="914.1" cy="791.7" r="3.0" fill="#379416" stroke="#379416"/><circle cx="928.8" cy="788.6" r="3.0" fill="#379416" stroke="#379416"/><circle cx="932.9" cy="788.6" r="3.0" fill="#379416" stroke="#379416"/><circle cx="943.6" cy="791.7" r="3.0" fill="#379416" stroke="#379416"/><circle cx="920.8" cy="805.8" r="3.0" fill="#379416" stroke="#379416"/><circle cx="966.4" cy="825.2" r="3.0" fill="#379416" stroke="#379416"/><circle cx="998.4" cy="827.4" r="3.0" fill="#379416" stroke="#379416"/><circle cx="959.7" cy="834.8" r="3.0" fill="#379416" stroke="#379416"/><circle cx="976.0" cy="834.8" r="3.0" fill="#379416" stroke="#379416"/><circle cx="990.5" cy="839.6" r="3.0" fill="#379416" stroke="#379416"/><circle cx="1001.9" cy="843.4" r="3.0" fill="#379416" stroke="#379416"/><circle cx="974.0" cy="851.0" r="3.0" fill="#379416" stroke="#379416"/><circle cx="994.8" cy="851.0" r="3.0" fill="#379416" stroke="#379416"/><circle cx="986.2" cy="855.2" r="3.0" fill="#379416" stroke="#379416"/><circle cx="1002.4" cy="855.6" r="3.0" fill="#379416" stroke="#379416"/><circle cx="998.1" cy="859.1" r="3.0" fill="#379416" stroke="#379416"/><circle cx="959.3" cy="863.7" r="3.0" fill="#379416" stroke="#379416"/><circle cx="991.2" cy="865.8" r="3.0" fill="#379416" stroke="#379416"/><circle cx="995.1" cy="863.2" r="3.0" fill="#379416" stroke="#379416"/><circle cx="1017.3" cy="825.5" r="3.0" fill="#379416" stroke="#379416"/><circle cx="1047.4" cy="833.4" r="3.0" fill="#379416" stroke="#379416"/><circle cx="1054.4" cy="839.4" r="3.0" fill="#379416" stroke="#379416"/><circle cx="1059.1" cy="842.9" r="3.0" fill="#379416" stroke="#379416"/><circle cx="1042.2" cy="841.3" r="3.0" fill="#379416" stroke="#379416"/><circle cx="1037.0" cy="850.0" r="3.0" fill="#379416" stroke="#379416"/><circle cx="1021.6" cy="856.8" r="3.0" fill="#379416" stroke="#379416"/><circle cx="1061.2" cy="856.8" r="3.0" fill="#379416" stroke="#379416"/><circle cx="1027.5" cy="863.2" r="3.0" fill="#379416" stroke="#379416"/><circle cx="1047.4" cy="863.2" r="3.0" fill="#379416" stroke="#379416"/><circle cx="1051.7" cy="865.1" r="3.0" fill="#379416" stroke="#379416"/><circle cx="1055.3" cy="863.5" r="3.0" fill="#379416" stroke="#379416"/><circle cx="1018.5" cy="871.1" r="3.0" fill="#379416" stroke="#379416"/><circle cx="1062.3" cy="871.1" r="3.0" fill="#379416" stroke="#379416"/><circle cx="1122.5" cy="798.9" r="3.0" fill="#379416" stroke="#379416"/><circle cx="1083.4" cy="808.9" r="3.0" fill="#379416" stroke="#379416"/><circle cx="1114.6" cy="808.4" r="3.0" fill="#379416" stroke="#379416"/><circle cx="1099.7" cy="813.6" r="3.0" fill="#379416" stroke="#379416"/><circle cx="1102.8" cy="815.2" r="3.0" fill="#379416" stroke="#379416"/><circle cx="1085.7" cy="818.8" r="3.0" fill="#379416" stroke="#379416"/><circle cx="1097.6" cy="822.3" r="3.0" fill="#379416" stroke="#379416"/><circle cx="1079.1" cy="832.6" r="3.0" fill="#379416" stroke="#379416"/><circle cx="1102.4" cy="832.6" r="3.0" fill="#379416" stroke="#379416"/><circle cx="1076.6" cy="844.2" r="3.0" fill="#379416" stroke="#379416"/><circle cx="1105.5" cy="845.3" r="3.0" fill="#379416" stroke="#379416"/><circle cx="1109.2" cy="845.3" r="3.0" fill="#379416" stroke="#379416"/><circle cx="1086.1" cy="849.2" r="3.0" fill="#379416" stroke="#379416"/><circle cx="1086.5" cy="858.0" r="3.0" fill="#379416" stroke="#379416"/><circle cx="1118.7" cy="858.0" r="3.0" fill="#379416" stroke="#379416"/><circle cx="1177.3" cy="763.7" r="3.0" fill="#379416" stroke="#379416"/><circle cx="1135.6" cy="771.3" r="3.0" fill="#379416" stroke="#379416"/><circle cx="1144.6" cy="775.1" r="3.0" fill="#379416" stroke="#379416"/><circle cx="1148.3" cy="780.8" r="3.0" fill="#379416" stroke="#379416"/><circle cx="1150.7" cy="787.5" r="3.0" fill="#379416" stroke="#379416"/><circle cx="1147.2" cy="792.2" r="3.0" fill="#379416" stroke="#379416"/><circle cx="1165.2" cy="791.9" r="3.0" fill="#379416" stroke="#379416"/><circle cx="1140.4" cy="802.1" r="3.0" fill="#379416" stroke="#379416"/><circle cx="1156.7" cy="803.0" r="3.0" fill="#379416" stroke="#379416"/><circle cx="1159.8" cy="804.1" r="3.0" fill="#379416" stroke="#379416"/><circle cx="1140.8" cy="808.4" r="3.0" fill="#379416" stroke="#379416"/><circle cx="1145.9" cy="808.4" r="3.0" fill="#379416" stroke="#379416"/><circle cx="1152.6" cy="815.7" r="3.0" fill="#379416" stroke="#379416"/><circle cx="131.4" cy="316.7" r="3.0" fill="#f29b50" stroke="#f29b50"/><circle cx="129.9" cy="333.5" r="3.0" fill="#f29b50" stroke="#f29b50"/><circle cx="122.0" cy="349.3" r="3.0" fill="#f29b50" stroke="#f29b50"/><circle cx="144.8" cy="352.3" r="3.0" fill="#f29b50" stroke="#f29b50"/><circle cx="149.5" cy="352.3" r="3.0" fill="#f29b50" stroke="#f29b50"/><circle cx="115.3" cy="356.4" r="3.0" fill="#f29b50" stroke="#f29b50"/><circle cx="179.0" cy="360.2" r="3.0" fill="#f29b50" stroke="#f29b50"/><circle cx="211.7" cy="373.2" r="3.0" fill="#f29b50" stroke="#f29b50"/><circle cx="193.0" cy="377.9" r="3.0" fill="#f29b50" stroke="#f29b50"/><circle cx="185.5" cy="383.5" r="3.0" fill="#f29b50" stroke="#f29b50"/><circle cx="197.1" cy="394.1" r="3.0" fill="#f29b50" stroke="#f29b50"/><circle cx="197.1" cy="412.8" r="3.0" fill="#f29b50" stroke="#f29b50"/><circle cx="247.5" cy="306.0" r="3.0" fill="#f29b50" stroke="#f29b50"/><circle cx="262.1" cy="314.4" r="3.0" fill="#f29b50" stroke="#f29b50"/><circle cx="227.9" cy="331.8" r="3.0" fill="#f29b50" stroke="#f29b50"/><circle cx="228.8" cy="334.4" r="3.0" fill="#f29b50" stroke="#f29b50"/><circle cx="257.8" cy="338.7" r="3.0" fill="#f29b50" stroke="#f29b50"/><circle cx="311.7" cy="198.4" r="3.0" fill="#f29b50" stroke="#f29b50"/><circle cx="289.9" cy="208.6" r="3.0" fill="#f29b50" stroke="#f29b50"/><circle cx="288.4" cy="216.6" r="3.0" fill="#f29b50" stroke="#f29b50"/><circle cx="305.0" cy="219.4" r="3.0" fill="#f29b50" stroke="#f29b50"/><circle cx="312.1" cy="223.7" r="3.0" fill="#f29b50" stroke="#f29b50"/><circle cx="288.4" cy="232.3" r="3.0" fill="#f29b50" stroke="#f29b50"/><circle cx="351.0" cy="269.7" r="3.0" fill="#f29b50" stroke="#f29b50"/><circle cx="370.0" cy="271.2" r="3.0" fill="#f29b50" stroke="#f29b50"/><circle cx="389.8" cy="292.2" r="3.0" fill="#f29b50" stroke="#f29b50"/><circle cx="346.7" cy="300.8" r="3.0" fill="#f29b50" stroke="#f29b50"/><circle cx="364.6" cy="322.0" r="3.0" fill="#f29b50" stroke="#f29b50"/><circle cx="349.5" cy="331.7" r="3.0" fill="#f29b50" stroke="#f29b50"/><circle cx="420.4" cy="346.2" r="3.0" fill="#f29b50" stroke="#f29b50"/><circle cx="420.6" cy="357.0" r="3.0" fill="#f29b50" stroke="#f29b50"/><circle cx="424.2" cy="365.3" r="3.0" fill="#f29b50" stroke="#f29b50"/><circle cx="444.9" cy="376.2" r="3.0" fill="#f29b50" stroke="#f29b50"/><circle cx="430.6" cy="381.3" r="3.0" fill="#f29b50" stroke="#f29b50"/><circle cx="405.1" cy="388.3" r="3.0" fill="#f29b50" stroke="#f29b50"/><circle cx="503.4" cy="350.0" r="3.0" fill="#f29b50" stroke="#f29b50"/><circle cx="486.0" cy="363.4" r="3.0" fill="#f29b50" stroke="#f29b50"/><circle cx="467.9" cy="365.3" r="3.0" fill="#f29b50" stroke="#f29b50"/><circle cx="504.9" cy="380.0" r="3.0" fill="#f29b50" stroke="#f29b50"/><circle cx="477.5" cy="384.5" r="3.0" fill="#f29b50" stroke="#f29b50"/><circle cx="484.5" cy="396.0" r="3.0" fill="#f29b50" stroke="#f29b50"/><circle cx="543.3" cy="325.0" r="3.0" fill="#f29b50" stroke="#f29b50"/><circle cx="560.6" cy="343.6" r="3.0" fill="#f29b50" stroke="#f29b50"/><circle cx="533.9" cy="353.9" r="3.0" fill="#f29b50" stroke="#f29b50"/><circle cx="547.0" cy="353.0" r="3.0" fill="#f29b50" stroke="#f29b50"/><circle cx="524.6" cy="368.5" r="3.0" fill="#f29b50" stroke="#f29b50"/><circle cx="566.2" cy="367.9" r="3.0" fill="#f29b50" stroke="#f29b50"/><circle cx="578.4" cy="275.5" r="3.0" fill="#f29b50" stroke="#f29b50"/><circle cx="592.4" cy="276.4" r="3.0" fill="#f29b50" stroke="#f29b50"/><circle cx="621.7" cy="295.1" r="3.0" fill="#f29b50" stroke="#f29b50"/><circle cx="617.0" cy="297.9" r="3.0" fill="#f29b50" stroke="#f29b50"/><circle cx="584.9" cy="309.1" r="3.0" fill="#f29b50" stroke="#f29b50"/><circle cx="590.5" cy="308.1" r="3.0" fill="#f29b50" stroke="#f29b50"/><circle cx="680.8" cy="322.1" r="3.0" fill="#f29b50" stroke="#f29b50"/><circle cx="696.3" cy="344.7" r="3.0" fill="#f29b50" stroke="#f29b50"/><circle cx="690.8" cy="347.7" r="3.0" fill="#f29b50" stroke="#f29b50"/><circle cx="708.3" cy="350.3" r="3.0" fill="#f29b50" stroke="#f29b50"/><circle cx="673.1" cy="358.8" r="3.0" fill="#f29b50" stroke="#f29b50"/><circle cx="682.2" cy="358.8" r="3.0" fill="#f29b50" stroke="#f29b50"/><circle cx="690.2" cy="355.7" r="3.0" fill="#f29b50" stroke="#f29b50"/><circle cx="698.3" cy="355.7" r="3.0" fill="#f29b50" stroke="#f29b50"/><circle cx="700.9" cy="362.8" r="3.0" fill="#f29b50" stroke="#f29b50"/><circle cx="708.3" cy="367.2" r="3.0" fill="#f29b50" stroke="#f29b50"/><circle cx="742.2" cy="378.9" r="3.0" fill="#f29b50" stroke="#f29b50"/><circle cx="743.6" cy="381.9" r="3.0" fill="#f29b50" stroke="#f29b50"/><circle cx="760.7" cy="380.9" r="3.0" fill="#f29b50" stroke="#f29b50"/><circle cx="737.5" cy="398.0" r="3.0" fill="#f29b50" stroke="#f29b50"/><circle cx="751.2" cy="407.1" r="3.0" fill="#f29b50" stroke="#f29b50"/><circle cx="757.7" cy="407.5" r="3.0" fill="#f29b50" stroke="#f29b50"/><circle cx="763.3" cy="406.1" r="3.0" fill="#f29b50" stroke="#f29b50"/><circle cx="733.1" cy="415.1" r="3.0" fill="#f29b50" stroke="#f29b50"/><circle cx="733.5" cy="419.8" r="3.0" fill="#f29b50" stroke="#f29b50"/><circle cx="738.5" cy="425.6" r="3.0" fill="#f29b50" stroke="#f29b50"/><circle cx="765.7" cy="423.6" r="3.0" fill="#f29b50" stroke="#f29b50"/><circle cx="792.7" cy="268.8" r="3.0" fill="#f29b50" stroke="#f29b50"/><circle cx="804.0" cy="299.3" r="3.0" fill="#f29b50" stroke="#f29b50"/><circle cx="824.4" cy="302.4" r="3.0" fill="#f29b50" stroke="#f29b50"/><circle cx="797.9" cy="310.0" r="3.0" fill="#f29b50" stroke="#f29b50"/><circle cx="811.0" cy="310.0" r="3.0" fill="#f29b50" stroke="#f29b50"/><circle cx="809.1" cy="311.5" r="3.0" fill="#f29b50" stroke="#f29b50"/><circle cx="807.0" cy="319.8" r="3.0" fill="#f29b50" stroke="#f29b50"/><circle cx="814.6" cy="321.6" r="3.0" fill="#f29b50" stroke="#f29b50"/><circle cx="798.8" cy="324.6" r="3.0" fill="#f29b50" stroke="#f29b50"/><circle cx="816.2" cy="330.7" r="3.0" fill="#f29b50" stroke="#f29b50"/><circle cx="823.8" cy="330.7" r="3.0" fill="#f29b50" stroke="#f29b50"/><circle cx="846.6" cy="150.9" r="3.0" fill="#f29b50" stroke="#f29b50"/><circle cx="842.7" cy="181.3" r="3.0" fill="#f29b50" stroke="#f29b50"/><circle cx="853.7" cy="185.6" r="3.0" fill="#f29b50" stroke="#f29b50"/><circle cx="873.2" cy="182.0" r="3.0" fill="#f29b50" stroke="#f29b50"/><circle cx="842.7" cy="192.6" r="3.0" fill="#f29b50" stroke="#f29b50"/><circle cx="877.1" cy="192.6" r="3.0" fill="#f29b50" stroke="#f29b50"/><circle cx="881.1" cy="197.8" r="3.0" fill="#f29b50" stroke="#f29b50"/><circle cx="888.4" cy="209.4" r="3.0" fill="#f29b50" stroke="#f29b50"/><circle cx="854.9" cy="220.1" r="3.0" fill="#f29b50" stroke="#f29b50"/><circle cx="887.2" cy="223.7" r="3.0" fill="#f29b50" stroke="#f29b50"/><circle cx="906.5" cy="269.8" r="3.0" fill="#f29b50" stroke="#f29b50"/><circle cx="918.8" cy="278.3" r="3.0" fill="#f29b50" stroke="#f29b50"/><circle cx="942.4" cy="272.2" r="3.0" fill="#f29b50" stroke="#f29b50"/><circle cx="933.6" cy="281.1" r="3.0" fill="#f29b50" stroke="#f29b50"/><circle cx="927.7" cy="284.7" r="3.0" fill="#f29b50" stroke="#f29b50"/><circle cx="936.0" cy="283.5" r="3.0" fill="#f29b50" stroke="#f29b50"/><circle cx="910.8" cy="288.7" r="3.0" fill="#f29b50" stroke="#f29b50"/><circle cx="923.5" cy="290.6" r="3.0" fill="#f29b50" stroke="#f29b50"/><circle cx="933.6" cy="290.1" r="3.0" fill="#f29b50" stroke="#f29b50"/><circle cx="928.2" cy="308.3" r="3.0" fill="#f29b50" stroke="#f29b50"/><circle cx="936.0" cy="321.7" r="3.0" fill="#f29b50" stroke="#f29b50"/><circle cx="913.1" cy="324.8" r="3.0" fill="#f29b50" stroke="#f29b50"/><circle cx="990.9" cy="339.6" r="3.0" fill="#f29b50" stroke="#f29b50"/><circle cx="988.6" cy="346.0" r="3.0" fill="#f29b50" stroke="#f29b50"/><circle cx="977.3" cy="355.4" r="3.0" fill="#f29b50" stroke="#f29b50"/><circle cx="986.2" cy="357.1" r="3.0" fill="#f29b50" stroke="#f29b50"/><circle cx="999.7" cy="359.0" r="3.0" fill="#f29b50" stroke="#f29b50"/><circle cx="1000.8" cy="366.5" r="3.0" fill="#f29b50" stroke="#f29b50"/><circle cx="979.2" cy="364.9" r="3.0" fill="#f29b50" stroke="#f29b50"/><circle cx="998.0" cy="381.4" r="3.0" fill="#f29b50" stroke="#f29b50"/><circle cx="1002.7" cy="383.7" r="3.0" fill="#f29b50" stroke="#f29b50"/><circle cx="1041.2" cy="326.6" r="3.0" fill="#f29b50" stroke="#f29b50"/><circle cx="1051.9" cy="338.1" r="3.0" fill="#f29b50" stroke="#f29b50"/><circle cx="1021.3" cy="347.5" r="3.0" fill="#f29b50" stroke="#f29b50"/><circle cx="1029.8" cy="355.8" r="3.0" fill="#f29b50" stroke="#f29b50"/><circle cx="1030.1" cy="362.0" r="3.0" fill="#f29b50" stroke="#f29b50"/><circle cx="1041.2" cy="361.6" r="3.0" fill="#f29b50" stroke="#f29b50"/><circle cx="1053.6" cy="362.0" r="3.0" fill="#f29b50" stroke="#f29b50"/><circle cx="1020.9" cy="364.6" r="3.0" fill="#f29b50" stroke="#f29b50"/><circle cx="1059.8" cy="366.4" r="3.0" fill="#f29b50" stroke="#f29b50"/><circle cx="1036.5" cy="374.0" r="3.0" fill="#f29b50" stroke="#f29b50"/><circle cx="1018.8" cy="384.6" r="3.0" fill="#f29b50" stroke="#f29b50"/><circle cx="1027.1" cy="384.1" r="3.0" fill="#f29b50" stroke="#f29b50"/><circle cx="1088.5" cy="309.3" r="3.0" fill="#f29b50" stroke="#f29b50"/><circle cx="1107.9" cy="318.7" r="3.0" fill="#f29b50" stroke="#f29b50"/><circle cx="1090.2" cy="329.3" r="3.0" fill="#f29b50" stroke="#f29b50"/><circle cx="1093.0" cy="338.1" r="3.0" fill="#f29b50" stroke="#f29b50"/><circle cx="1096.9" cy="340.4" r="3.0" fill="#f29b50" stroke="#f29b50"/><circle cx="1086.7" cy="350.0" r="3.0" fill="#f29b50" stroke="#f29b50"/><circle cx="1109.3" cy="347.0" r="3.0" fill="#f29b50" stroke="#f29b50"/><circle cx="1114.6" cy="347.0" r="3.0" fill="#f29b50" stroke="#f29b50"/><circle cx="1107.2" cy="351.0" r="3.0" fill="#f29b50" stroke="#f29b50"/><circle cx="1082.4" cy="363.8" r="3.0" fill="#f29b50" stroke="#f29b50"/><circle cx="1086.7" cy="367.7" r="3.0" fill="#f29b50" stroke="#f29b50"/><circle cx="1093.8" cy="361.6" r="3.0" fill="#f29b50" stroke="#f29b50"/><circle cx="1167.8" cy="278.8" r="3.0" fill="#f29b50" stroke="#f29b50"/><circle cx="1163.1" cy="303.9" r="3.0" fill="#f29b50" stroke="#f29b50"/><circle cx="1159.0" cy="310.5" r="3.0" fill="#f29b50" stroke="#f29b50"/><circle cx="1161.5" cy="313.7" r="3.0" fill="#f29b50" stroke="#f29b50"/><circle cx="1149.0" cy="318.1" r="3.0" fill="#f29b50" stroke="#f29b50"/><circle cx="1154.0" cy="316.5" r="3.0" fill="#f29b50" stroke="#f29b50"/><circle cx="1159.9" cy="318.1" r="3.0" fill="#f29b50" stroke="#f29b50"/><circle cx="1161.5" cy="328.1" r="3.0" fill="#f29b50" stroke="#f29b50"/><circle cx="1169.7" cy="328.6" r="3.0" fill="#f29b50" stroke="#f29b50"/><circle cx="1177.5" cy="323.9" r="3.0" fill="#f29b50" stroke="#f29b50"/><circle cx="1157.9" cy="336.0" r="3.0" fill="#f29b50" stroke="#f29b50"/><circle cx="147.5" cy="796.8" r="3.0" fill="#f29b50" stroke="#f29b50"/><circle cx="117.5" cy="817.4" r="3.0" fill="#f29b50" stroke="#f29b50"/><circle cx="134.7" cy="828.0" r="3.0" fill="#f29b50" stroke="#f29b50"/><circle cx="142.2" cy="825.3" r="3.0" fill="#f29b50" stroke="#f29b50"/><circle cx="144.8" cy="827.3" r="3.0" fill="#f29b50" stroke="#f29b50"/><circle cx="117.0" cy="830.0" r="3.0" fill="#f29b50" stroke="#f29b50"/><circle cx="114.8" cy="835.9" r="3.0" fill="#f29b50" stroke="#f29b50"/><circle cx="133.8" cy="836.6" r="3.0" fill="#f29b50" stroke="#f29b50"/><circle cx="121.9" cy="841.9" r="3.0" fill="#f29b50" stroke="#f29b50"/><circle cx="152.0" cy="858.5" r="3.0" fill="#f29b50" stroke="#f29b50"/><circle cx="189.1" cy="858.5" r="3.0" fill="#f29b50" stroke="#f29b50"/><circle cx="208.0" cy="864.4" r="3.0" fill="#f29b50" stroke="#f29b50"/><circle cx="167.9" cy="870.4" r="3.0" fill="#f29b50" stroke="#f29b50"/><circle cx="184.2" cy="873.7" r="3.0" fill="#f29b50" stroke="#f29b50"/><circle cx="192.8" cy="876.3" r="3.0" fill="#f29b50" stroke="#f29b50"/><circle cx="209.4" cy="876.3" r="3.0" fill="#f29b50" stroke="#f29b50"/><circle cx="200.7" cy="885.9" r="3.0" fill="#f29b50" stroke="#f29b50"/><circle cx="186.2" cy="892.0" r="3.0" fill="#f29b50" stroke="#f29b50"/><circle cx="199.7" cy="891.6" r="3.0" fill="#f29b50" stroke="#f29b50"/><circle cx="227.7" cy="771.5" r="3.0" fill="#f29b50" stroke="#f29b50"/><circle cx="243.0" cy="771.5" r="3.0" fill="#f29b50" stroke="#f29b50"/><circle cx="240.7" cy="789.6" r="3.0" fill="#f29b50" stroke="#f29b50"/><circle cx="248.6" cy="793.9" r="3.0" fill="#f29b50" stroke="#f29b50"/><circle cx="260.7" cy="793.0" r="3.0" fill="#f29b50" stroke="#f29b50"/><circle cx="243.0" cy="798.2" r="3.0" fill="#f29b50" stroke="#f29b50"/><circle cx="250.1" cy="803.2" r="3.0" fill="#f29b50" stroke="#f29b50"/><circle cx="265.0" cy="806.0" r="3.0" fill="#f29b50" stroke="#f29b50"/><circle cx="303.1" cy="665.7" r="3.0" fill="#f29b50" stroke="#f29b50"/><circle cx="302.7" cy="674.0" r="3.0" fill="#f29b50" stroke="#f29b50"/><circle cx="311.1" cy="684.8" r="3.0" fill="#f29b50" stroke="#f29b50"/><circle cx="316.7" cy="688.9" r="3.0" fill="#f29b50" stroke="#f29b50"/><circle cx="301.8" cy="690.0" r="3.0" fill="#f29b50" stroke="#f29b50"/><circle cx="308.3" cy="694.1" r="3.0" fill="#f29b50" stroke="#f29b50"/><circle cx="312.0" cy="695.0" r="3.0" fill="#f29b50" stroke="#f29b50"/><circle cx="289.3" cy="694.5" r="3.0" fill="#f29b50" stroke="#f29b50"/><circle cx="323.2" cy="702.5" r="3.0" fill="#f29b50" stroke="#f29b50"/><circle cx="363.6" cy="757.3" r="3.0" fill="#f29b50" stroke="#f29b50"/><circle cx="364.6" cy="760.2" r="3.0" fill="#f29b50" stroke="#f29b50"/><circle cx="384.2" cy="765.1" r="3.0" fill="#f29b50" stroke="#f29b50"/><circle cx="365.1" cy="769.5" r="3.0" fill="#f29b50" stroke="#f29b50"/><circle cx="346.5" cy="775.0" r="3.0" fill="#f29b50" stroke="#f29b50"/><circle cx="347.4" cy="791.2" r="3.0" fill="#f29b50" stroke="#f29b50"/><circle cx="363.6" cy="791.9" r="3.0" fill="#f29b50" stroke="#f29b50"/><circle cx="375.0" cy="791.9" r="3.0" fill="#f29b50" stroke="#f29b50"/><circle cx="378.9" cy="800.0" r="3.0" fill="#f29b50" stroke="#f29b50"/><circle cx="424.0" cy="822.6" r="3.0" fill="#f29b50" stroke="#f29b50"/><circle cx="431.0" cy="826.1" r="3.0" fill="#f29b50" stroke="#f29b50"/><circle cx="425.1" cy="836.1" r="3.0" fill="#f29b50" stroke="#f29b50"/><circle cx="411.8" cy="839.4" r="3.0" fill="#f29b50" stroke="#f29b50"/><circle cx="424.3" cy="841.3" r="3.0" fill="#f29b50" stroke="#f29b50"/><circle cx="422.1" cy="844.2" r="3.0" fill="#f29b50" stroke="#f29b50"/><circle cx="427.3" cy="846.5" r="3.0" fill="#f29b50" stroke="#f29b50"/><circle cx="440.3" cy="846.7" r="3.0" fill="#f29b50" stroke="#f29b50"/><circle cx="402.2" cy="849.1" r="3.0" fill="#f29b50" stroke="#f29b50"/><circle cx="407.8" cy="847.9" r="3.0" fill="#f29b50" stroke="#f29b50"/><circle cx="491.6" cy="826.1" r="3.0" fill="#f29b50" stroke="#f29b50"/><circle cx="489.9" cy="831.1" r="3.0" fill="#f29b50" stroke="#f29b50"/><circle cx="501.5" cy="839.7" r="3.0" fill="#f29b50" stroke="#f29b50"/><circle cx="504.8" cy="841.4" r="3.0" fill="#f29b50" stroke="#f29b50"/><circle cx="505.8" cy="845.6" r="3.0" fill="#f29b50" stroke="#f29b50"/><circle cx="468.2" cy="845.1" r="3.0" fill="#f29b50" stroke="#f29b50"/><circle cx="464.2" cy="847.5" r="3.0" fill="#f29b50" stroke="#f29b50"/><circle cx="467.8" cy="850.3" r="3.0" fill="#f29b50" stroke="#f29b50"/><circle cx="460.0" cy="853.9" r="3.0" fill="#f29b50" stroke="#f29b50"/><circle cx="466.8" cy="853.2" r="3.0" fill="#f29b50" stroke="#f29b50"/><circle cx="519.5" cy="795.2" r="3.0" fill="#f29b50" stroke="#f29b50"/><circle cx="522.6" cy="806.2" r="3.0" fill="#f29b50" stroke="#f29b50"/><circle cx="562.5" cy="822.6" r="3.0" fill="#f29b50" stroke="#f29b50"/><circle cx="522.6" cy="825.1" r="3.0" fill="#f29b50" stroke="#f29b50"/><circle cx="521.2" cy="827.6" r="3.0" fill="#f29b50" stroke="#f29b50"/><circle cx="524.7" cy="832.3" r="3.0" fill="#f29b50" stroke="#f29b50"/><circle cx="542.3" cy="833.3" r="3.0" fill="#f29b50" stroke="#f29b50"/><circle cx="564.6" cy="829.4" r="3.0" fill="#f29b50" stroke="#f29b50"/><circle cx="557.1" cy="841.4" r="3.0" fill="#f29b50" stroke="#f29b50"/><circle cx="577.7" cy="755.0" r="3.0" fill="#f29b50" stroke="#f29b50"/><circle cx="616.7" cy="755.1" r="3.0" fill="#f29b50" stroke="#f29b50"/><circle cx="587.9" cy="765.0" r="3.0" fill="#f29b50" stroke="#f29b50"/><circle cx="591.8" cy="764.2" r="3.0" fill="#f29b50" stroke="#f29b50"/><circle cx="587.9" cy="774.4" r="3.0" fill="#f29b50" stroke="#f29b50"/><circle cx="594.6" cy="788.5" r="3.0" fill="#f29b50" stroke="#f29b50"/><circle cx="615.0" cy="790.1" r="3.0" fill="#f29b50" stroke="#f29b50"/><circle cx="672.9" cy="786.3" r="3.0" fill="#f29b50" stroke="#f29b50"/><circle cx="688.5" cy="808.4" r="3.0" fill="#f29b50" stroke="#f29b50"/><circle cx="697.1" cy="814.4" r="3.0" fill="#f29b50" stroke="#f29b50"/><circle cx="701.2" cy="825.2" r="3.0" fill="#f29b50" stroke="#f29b50"/><circle cx="745.9" cy="827.1" r="3.0" fill="#f29b50" stroke="#f29b50"/><circle cx="735.2" cy="832.9" r="3.0" fill="#f29b50" stroke="#f29b50"/><circle cx="734.8" cy="850.5" r="3.0" fill="#f29b50" stroke="#f29b50"/><circle cx="818.6" cy="791.8" r="3.0" fill="#f29b50" stroke="#f29b50"/><circle cx="821.9" cy="794.9" r="3.0" fill="#f29b50" stroke="#f29b50"/><circle cx="819.0" cy="800.3" r="3.0" fill="#f29b50" stroke="#f29b50"/><circle cx="823.1" cy="814.0" r="3.0" fill="#f29b50" stroke="#f29b50"/><circle cx="880.7" cy="675.5" r="3.0" fill="#f29b50" stroke="#f29b50"/><circle cx="872.7" cy="679.5" r="3.0" fill="#f29b50" stroke="#f29b50"/><circle cx="884.0" cy="685.0" r="3.0" fill="#f29b50" stroke="#f29b50"/><circle cx="886.7" cy="694.4" r="3.0" fill="#f29b50" stroke="#f29b50"/><circle cx="943.6" cy="766.5" r="3.0" fill="#f29b50" stroke="#f29b50"/><circle cx="928.8" cy="776.0" r="3.0" fill="#f29b50" stroke="#f29b50"/><circle cx="908.6" cy="786.6" r="3.0" fill="#f29b50" stroke="#f29b50"/><circle cx="939.9" cy="788.6" r="3.0" fill="#f29b50" stroke="#f29b50"/><circle cx="963.8" cy="829.0" r="3.0" fill="#f29b50" stroke="#f29b50"/><circle cx="966.4" cy="838.9" r="3.0" fill="#f29b50" stroke="#f29b50"/><circle cx="982.1" cy="842.7" r="3.0" fill="#f29b50" stroke="#f29b50"/><circle cx="971.9" cy="865.2" r="3.0" fill="#f29b50" stroke="#f29b50"/><circle cx="1036.3" cy="832.6" r="3.0" fill="#f29b50" stroke="#f29b50"/><circle cx="1020.0" cy="843.7" r="3.0" fill="#f29b50" stroke="#f29b50"/><circle cx="1063.3" cy="848.9" r="3.0" fill="#f29b50" stroke="#f29b50"/><circle cx="1042.2" cy="867.5" r="3.0" fill="#f29b50" stroke="#f29b50"/><circle cx="1113.5" cy="814.4" r="3.0" fill="#f29b50" stroke="#f29b50"/><circle cx="1113.5" cy="817.6" r="3.0" fill="#f29b50" stroke="#f29b50"/><circle cx="1081.0" cy="818.8" r="3.0" fill="#f29b50" stroke="#f29b50"/><circle cx="1079.1" cy="842.6" r="3.0" fill="#f29b50" stroke="#f29b50"/><circle cx="1156.7" cy="779.3" r="3.0" fill="#f29b50" stroke="#f29b50"/><circle cx="1150.3" cy="784.0" r="3.0" fill="#f29b50" stroke="#f29b50"/><circle cx="1171.6" cy="793.5" r="3.0" fill="#f29b50" stroke="#f29b50"/><circle cx="1150.3" cy="800.5" r="3.0" fill="#f29b50" stroke="#f29b50"/><circle cx="309.9" cy="685.4" r="3.0" fill="#f29b50" stroke="#f29b50"/><circle cx="312.7" cy="694.3" r="3.0" fill="#f29b50" stroke="#f29b50"/><circle cx="422.3" cy="843.1" r="3.0" fill="#f29b50" stroke="#f29b50"/><circle cx="115.3" cy="322.4" r="3.0" fill="#d22819" stroke="#d22819"/><circle cx="138.8" cy="340.6" r="3.0" fill="#d22819" stroke="#d22819"/><circle cx="122.8" cy="357.9" r="3.0" fill="#d22819" stroke="#d22819"/><circle cx="124.3" cy="362.0" r="3.0" fill="#d22819" stroke="#d22819"/><circle cx="132.7" cy="360.2" r="3.0" fill="#d22819" stroke="#d22819"/><circle cx="132.1" cy="364.3" r="3.0" fill="#d22819" stroke="#d22819"/><circle cx="144.2" cy="402.2" r="3.0" fill="#d22819" stroke="#d22819"/><circle cx="146.1" cy="407.8" r="3.0" fill="#d22819" stroke="#d22819"/><circle cx="193.4" cy="351.8" r="3.0" fill="#d22819" stroke="#d22819"/><circle cx="209.8" cy="361.1" r="3.0" fill="#d22819" stroke="#d22819"/><circle cx="193.9" cy="420.8" r="3.0" fill="#d22819" stroke="#d22819"/><circle cx="170.0" cy="418.0" r="3.0" fill="#d22819" stroke="#d22819"/><circle cx="170.9" cy="424.0" r="3.0" fill="#d22819" stroke="#d22819"/><circle cx="212.0" cy="424.9" r="3.0" fill="#d22819" stroke="#d22819"/><circle cx="265.6" cy="268.1" r="3.0" fill="#d22819" stroke="#d22819"/><circle cx="265.6" cy="279.3" r="3.0" fill="#d22819" stroke="#d22819"/><circle cx="240.0" cy="298.9" r="3.0" fill="#d22819" stroke="#d22819"/><circle cx="249.4" cy="305.1" r="3.0" fill="#d22819" stroke="#d22819"/><circle cx="265.2" cy="315.3" r="3.0" fill="#d22819" stroke="#d22819"/><circle cx="250.9" cy="326.2" r="3.0" fill="#d22819" stroke="#d22819"/><circle cx="230.3" cy="356.4" r="3.0" fill="#d22819" stroke="#d22819"/><circle cx="247.1" cy="374.7" r="3.0" fill="#d22819" stroke="#d22819"/><circle cx="314.3" cy="175.5" r="3.0" fill="#d22819" stroke="#d22819"/><circle cx="320.7" cy="191.3" r="3.0" fill="#d22819" stroke="#d22819"/><circle cx="302.8" cy="216.6" r="3.0" fill="#d22819" stroke="#d22819"/><circle cx="319.7" cy="222.6" r="3.0" fill="#d22819" stroke="#d22819"/><circle cx="325.7" cy="217.9" r="3.0" fill="#d22819" stroke="#d22819"/><circle cx="312.5" cy="228.7" r="3.0" fill="#d22819" stroke="#d22819"/><circle cx="287.7" cy="269.7" r="3.0" fill="#d22819" stroke="#d22819"/><circle cx="315.3" cy="270.1" r="3.0" fill="#d22819" stroke="#d22819"/><circle cx="363.3" cy="231.7" r="3.0" fill="#d22819" stroke="#d22819"/><circle cx="376.5" cy="265.4" r="3.0" fill="#d22819" stroke="#d22819"/><circle cx="372.1" cy="288.5" r="3.0" fill="#d22819" stroke="#d22819"/><circle cx="356.4" cy="297.6" r="3.0" fill="#d22819" stroke="#d22819"/><circle cx="384.4" cy="302.5" r="3.0" fill="#d22819" stroke="#d22819"/><circle cx="388.3" cy="301.4" r="3.0" fill="#d22819" stroke="#d22819"/><circle cx="374.7" cy="352.6" r="3.0" fill="#d22819" stroke="#d22819"/><circle cx="368.3" cy="364.1" r="3.0" fill="#d22819" stroke="#d22819"/><circle cx="417.1" cy="358.3" r="3.0" fill="#d22819" stroke="#d22819"/><circle cx="416.2" cy="362.1" r="3.0" fill="#d22819" stroke="#d22819"/><circle cx="419.4" cy="363.4" r="3.0" fill="#d22819" stroke="#d22819"/><circle cx="411.1" cy="365.3" r="3.0" fill="#d22819" stroke="#d22819"/><circle cx="421.3" cy="366.6" r="3.0" fill="#d22819" stroke="#d22819"/><circle cx="438.5" cy="367.9" r="3.0" fill="#d22819" stroke="#d22819"/><circle cx="409.2" cy="371.1" r="3.0" fill="#d22819" stroke="#d22819"/><circle cx="411.7" cy="373.0" r="3.0" fill="#d22819" stroke="#d22819"/><circle cx="407.9" cy="427.3" r="3.0" fill="#d22819" stroke="#d22819"/><circle cx="442.1" cy="430.8" r="3.0" fill="#d22819" stroke="#d22819"/><circle cx="472.4" cy="364.7" r="3.0" fill="#d22819" stroke="#d22819"/><circle cx="503.0" cy="365.3" r="3.0" fill="#d22819" stroke="#d22819"/><circle cx="504.9" cy="369.8" r="3.0" fill="#d22819" stroke="#d22819"/><circle cx="473.0" cy="376.2" r="3.0" fill="#d22819" stroke="#d22819"/><circle cx="479.4" cy="374.9" r="3.0" fill="#d22819" stroke="#d22819"/><circle cx="484.5" cy="374.9" r="3.0" fill="#d22819" stroke="#d22819"/><circle cx="468.5" cy="424.7" r="3.0" fill="#d22819" stroke="#d22819"/><circle cx="503.0" cy="424.7" r="3.0" fill="#d22819" stroke="#d22819"/><circle cx="556.9" cy="338.0" r="3.0" fill="#d22819" stroke="#d22819"/><circle cx="547.9" cy="347.4" r="3.0" fill="#d22819" stroke="#d22819"/><circle cx="525.5" cy="353.0" r="3.0" fill="#d22819" stroke="#d22819"/><circle cx="539.5" cy="353.9" r="3.0" fill="#d22819" stroke="#d22819"/><circle cx="542.3" cy="356.7" r="3.0" fill="#d22819" stroke="#d22819"/><circle cx="532.6" cy="415.1" r="3.0" fill="#d22819" stroke="#d22819"/><circle cx="561.4" cy="411.8" r="3.0" fill="#d22819" stroke="#d22819"/><circle cx="617.0" cy="279.6" r="3.0" fill="#d22819" stroke="#d22819"/><circle cx="585.7" cy="290.0" r="3.0" fill="#d22819" stroke="#d22819"/><circle cx="604.0" cy="293.2" r="3.0" fill="#d22819" stroke="#d22819"/><circle cx="608.6" cy="296.0" r="3.0" fill="#d22819" stroke="#d22819"/><circle cx="616.7" cy="294.1" r="3.0" fill="#d22819" stroke="#d22819"/><circle cx="597.0" cy="304.4" r="3.0" fill="#d22819" stroke="#d22819"/><circle cx="585.7" cy="329.2" r="3.0" fill="#d22819" stroke="#d22819"/><circle cx="624.1" cy="327.4" r="3.0" fill="#d22819" stroke="#d22819"/><circle cx="668.7" cy="350.3" r="3.0" fill="#d22819" stroke="#d22819"/><circle cx="678.8" cy="362.4" r="3.0" fill="#d22819" stroke="#d22819"/><circle cx="681.2" cy="364.8" r="3.0" fill="#d22819" stroke="#d22819"/><circle cx="691.2" cy="360.8" r="3.0" fill="#d22819" stroke="#d22819"/><circle cx="697.3" cy="372.9" r="3.0" fill="#d22819" stroke="#d22819"/><circle cx="681.6" cy="380.9" r="3.0" fill="#d22819" stroke="#d22819"/><circle cx="756.7" cy="358.4" r="3.0" fill="#d22819" stroke="#d22819"/><circle cx="725.5" cy="403.4" r="3.0" fill="#d22819" stroke="#d22819"/><circle cx="746.0" cy="403.4" r="3.0" fill="#d22819" stroke="#d22819"/><circle cx="759.7" cy="430.2" r="3.0" fill="#d22819" stroke="#d22819"/><circle cx="739.9" cy="436.3" r="3.0" fill="#d22819" stroke="#d22819"/><circle cx="788.7" cy="325.9" r="3.0" fill="#d22819" stroke="#d22819"/><circle cx="791.8" cy="328.3" r="3.0" fill="#d22819" stroke="#d22819"/><circle cx="814.6" cy="325.9" r="3.0" fill="#d22819" stroke="#d22819"/><circle cx="804.0" cy="331.3" r="3.0" fill="#d22819" stroke="#d22819"/><circle cx="788.7" cy="335.9" r="3.0" fill="#d22819" stroke="#d22819"/><circle cx="800.0" cy="352.7" r="3.0" fill="#d22819" stroke="#d22819"/><circle cx="843.6" cy="203.3" r="3.0" fill="#d22819" stroke="#d22819"/><circle cx="878.7" cy="212.4" r="3.0" fill="#d22819" stroke="#d22819"/><circle cx="844.5" cy="226.2" r="3.0" fill="#d22819" stroke="#d22819"/><circle cx="864.3" cy="230.1" r="3.0" fill="#d22819" stroke="#d22819"/><circle cx="850.6" cy="238.4" r="3.0" fill="#d22819" stroke="#d22819"/><circle cx="853.7" cy="251.5" r="3.0" fill="#d22819" stroke="#d22819"/><circle cx="946.1" cy="299.5" r="3.0" fill="#d22819" stroke="#d22819"/><circle cx="899.9" cy="304.7" r="3.0" fill="#d22819" stroke="#d22819"/><circle cx="941.4" cy="317.7" r="3.0" fill="#d22819" stroke="#d22819"/><circle cx="909.3" cy="327.8" r="3.0" fill="#d22819" stroke="#d22819"/><circle cx="912.4" cy="330.7" r="3.0" fill="#d22819" stroke="#d22819"/><circle cx="901.8" cy="333.5" r="3.0" fill="#d22819" stroke="#d22819"/><circle cx="973.7" cy="368.9" r="3.0" fill="#d22819" stroke="#d22819"/><circle cx="965.9" cy="373.6" r="3.0" fill="#d22819" stroke="#d22819"/><circle cx="972.1" cy="384.9" r="3.0" fill="#d22819" stroke="#d22819"/><circle cx="1005.1" cy="389.6" r="3.0" fill="#d22819" stroke="#d22819"/><circle cx="967.4" cy="400.9" r="3.0" fill="#d22819" stroke="#d22819"/><circle cx="990.2" cy="408.5" r="3.0" fill="#d22819" stroke="#d22819"/><circle cx="1022.7" cy="367.7" r="3.0" fill="#d22819" stroke="#d22819"/><circle cx="1034.2" cy="370.8" r="3.0" fill="#d22819" stroke="#d22819"/><circle cx="1033.6" cy="388.2" r="3.0" fill="#d22819" stroke="#d22819"/><circle cx="1047.8" cy="392.1" r="3.0" fill="#d22819" stroke="#d22819"/><circle cx="1047.1" cy="404.8" r="3.0" fill="#d22819" stroke="#d22819"/><circle cx="1056.6" cy="411.1" r="3.0" fill="#d22819" stroke="#d22819"/><circle cx="1101.4" cy="350.5" r="3.0" fill="#d22819" stroke="#d22819"/><circle cx="1116.7" cy="361.6" r="3.0" fill="#d22819" stroke="#d22819"/><circle cx="1098.4" cy="377.0" r="3.0" fill="#d22819" stroke="#d22819"/><circle cx="1107.5" cy="380.6" r="3.0" fill="#d22819" stroke="#d22819"/><circle cx="1086.3" cy="387.6" r="3.0" fill="#d22819" stroke="#d22819"/><circle cx="1120.8" cy="395.2" r="3.0" fill="#d22819" stroke="#d22819"/><circle cx="1177.5" cy="284.1" r="3.0" fill="#d22819" stroke="#d22819"/><circle cx="1157.9" cy="290.1" r="3.0" fill="#d22819" stroke="#d22819"/><circle cx="1144.9" cy="308.9" r="3.0" fill="#d22819" stroke="#d22819"/><circle cx="1150.1" cy="312.1" r="3.0" fill="#d22819" stroke="#d22819"/><circle cx="1145.3" cy="355.3" r="3.0" fill="#d22819" stroke="#d22819"/><circle cx="1166.5" cy="352.1" r="3.0" fill="#d22819" stroke="#d22819"/><circle cx="108.6" cy="824.9" r="3.0" fill="#d22819" stroke="#d22819"/><circle cx="130.2" cy="842.5" r="3.0" fill="#d22819" stroke="#d22819"/><circle cx="113.0" cy="847.4" r="3.0" fill="#d22819" stroke="#d22819"/><circle cx="147.1" cy="848.5" r="3.0" fill="#d22819" stroke="#d22819"/><circle cx="145.3" cy="851.8" r="3.0" fill="#d22819" stroke="#d22819"/><circle cx="121.2" cy="861.8" r="3.0" fill="#d22819" stroke="#d22819"/><circle cx="195.7" cy="867.1" r="3.0" fill="#d22819" stroke="#d22819"/><circle cx="190.1" cy="874.4" r="3.0" fill="#d22819" stroke="#d22819"/><circle cx="172.6" cy="878.3" r="3.0" fill="#d22819" stroke="#d22819"/><circle cx="181.5" cy="881.9" r="3.0" fill="#d22819" stroke="#d22819"/><circle cx="212.0" cy="880.6" r="3.0" fill="#d22819" stroke="#d22819"/><circle cx="194.4" cy="890.3" r="3.0" fill="#d22819" stroke="#d22819"/><circle cx="233.3" cy="798.6" r="3.0" fill="#d22819" stroke="#d22819"/><circle cx="239.6" cy="805.1" r="3.0" fill="#d22819" stroke="#d22819"/><circle cx="249.5" cy="808.8" r="3.0" fill="#d22819" stroke="#d22819"/><circle cx="248.6" cy="811.6" r="3.0" fill="#d22819" stroke="#d22819"/><circle cx="227.1" cy="815.0" r="3.0" fill="#d22819" stroke="#d22819"/><circle cx="229.6" cy="821.9" r="3.0" fill="#d22819" stroke="#d22819"/><circle cx="299.9" cy="693.2" r="3.0" fill="#d22819" stroke="#d22819"/><circle cx="326.6" cy="696.3" r="3.0" fill="#d22819" stroke="#d22819"/><circle cx="294.3" cy="701.6" r="3.0" fill="#d22819" stroke="#d22819"/><circle cx="299.0" cy="703.4" r="3.0" fill="#d22819" stroke="#d22819"/><circle cx="317.6" cy="710.5" r="3.0" fill="#d22819" stroke="#d22819"/><circle cx="289.3" cy="715.6" r="3.0" fill="#d22819" stroke="#d22819"/><circle cx="352.4" cy="793.1" r="3.0" fill="#d22819" stroke="#d22819"/><circle cx="360.7" cy="789.7" r="3.0" fill="#d22819" stroke="#d22819"/><circle cx="372.0" cy="794.9" r="3.0" fill="#d22819" stroke="#d22819"/><circle cx="387.8" cy="793.4" r="3.0" fill="#d22819" stroke="#d22819"/><circle cx="368.0" cy="807.4" r="3.0" fill="#d22819" stroke="#d22819"/><circle cx="383.8" cy="815.5" r="3.0" fill="#d22819" stroke="#d22819"/><circle cx="427.3" cy="854.6" r="3.0" fill="#d22819" stroke="#d22819"/><circle cx="445.7" cy="855.3" r="3.0" fill="#d22819" stroke="#d22819"/><circle cx="418.4" cy="859.4" r="3.0" fill="#d22819" stroke="#d22819"/><circle cx="434.7" cy="859.0" r="3.0" fill="#d22819" stroke="#d22819"/><circle cx="426.6" cy="864.4" r="3.0" fill="#d22819" stroke="#d22819"/><circle cx="446.5" cy="871.5" r="3.0" fill="#d22819" stroke="#d22819"/><circle cx="500.1" cy="853.9" r="3.0" fill="#d22819" stroke="#d22819"/><circle cx="471.6" cy="860.3" r="3.0" fill="#d22819" stroke="#d22819"/><circle cx="466.8" cy="864.6" r="3.0" fill="#d22819" stroke="#d22819"/><circle cx="493.0" cy="860.7" r="3.0" fill="#d22819" stroke="#d22819"/><circle cx="495.8" cy="867.8" r="3.0" fill="#d22819" stroke="#d22819"/><circle cx="495.3" cy="873.8" r="3.0" fill="#d22819" stroke="#d22819"/><circle cx="562.2" cy="838.9" r="3.0" fill="#d22819" stroke="#d22819"/><circle cx="532.9" cy="846.1" r="3.0" fill="#d22819" stroke="#d22819"/><circle cx="554.2" cy="853.9" r="3.0" fill="#d22819" stroke="#d22819"/><circle cx="554.6" cy="860.3" r="3.0" fill="#d22819" stroke="#d22819"/><circle cx="526.9" cy="871.0" r="3.0" fill="#d22819" stroke="#d22819"/><circle cx="619.3" cy="771.7" r="3.0" fill="#d22819" stroke="#d22819"/><circle cx="604.0" cy="776.0" r="3.0" fill="#d22819" stroke="#d22819"/><circle cx="586.3" cy="781.5" r="3.0" fill="#d22819" stroke="#d22819"/><circle cx="617.0" cy="781.9" r="3.0" fill="#d22819" stroke="#d22819"/><circle cx="601.5" cy="787.2" r="3.0" fill="#d22819" stroke="#d22819"/><circle cx="608.3" cy="792.1" r="3.0" fill="#d22819" stroke="#d22819"/></g>
<text transform="translate(32.3,491) rotate(-90) scale(1,1.04)" x="0" y="0" text-anchor="middle" font-size="35" fill="#000">Cq</text>
</svg>
</body></html>
